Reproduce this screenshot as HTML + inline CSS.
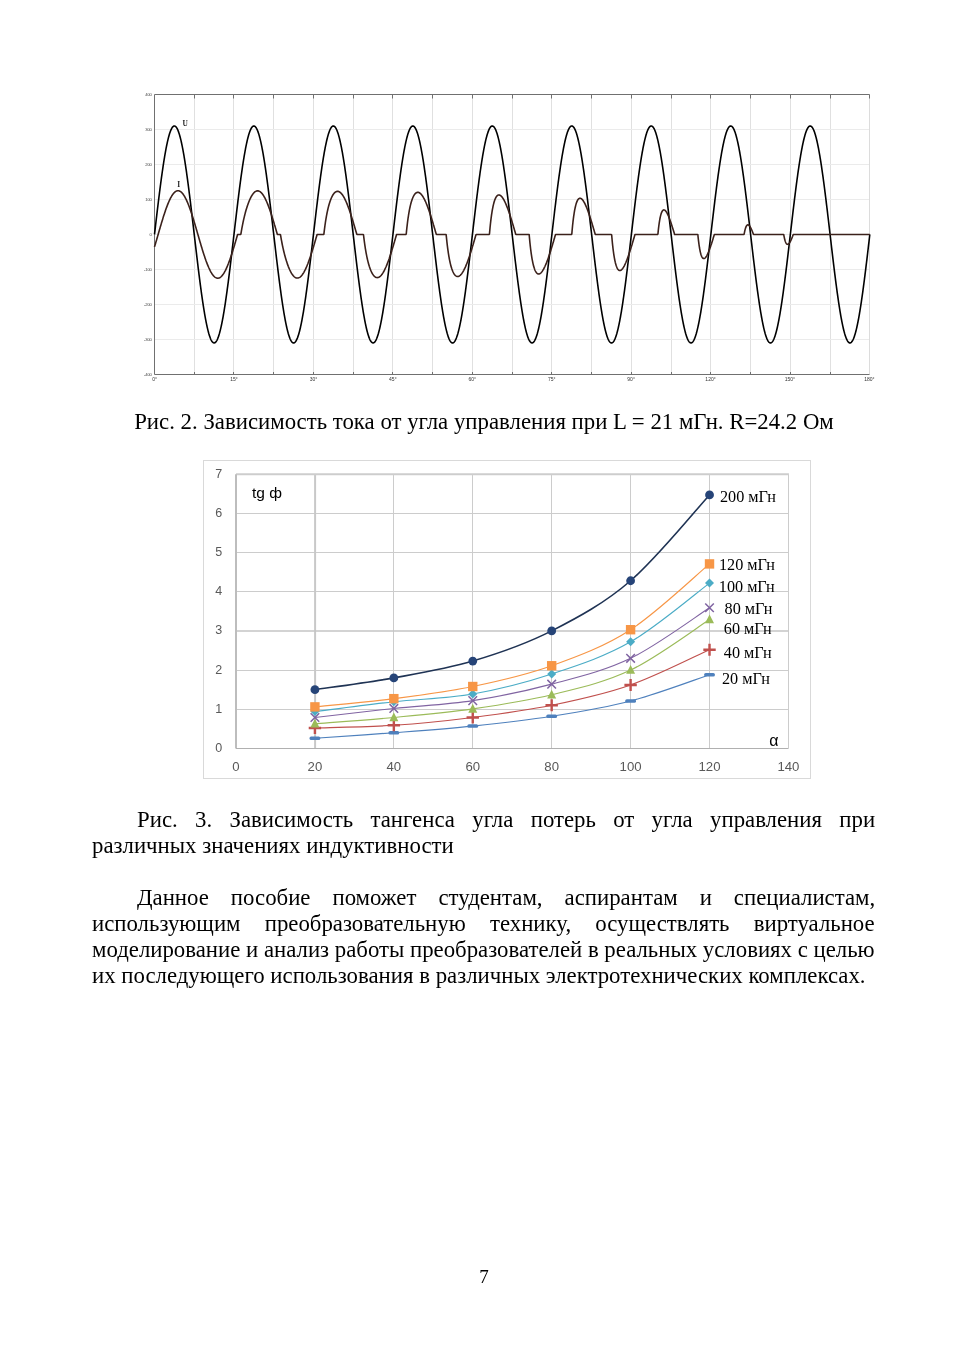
<!DOCTYPE html>
<html><head><meta charset="utf-8"><style>
html,body{margin:0;padding:0;background:#fff;}
body{width:968px;height:1369px;position:relative;overflow:hidden;}
.ln{will-change:transform;position:absolute;font-family:"Liberation Serif",serif;font-size:22.8px;line-height:26.07px;color:#000;white-space:nowrap;}
.j{display:flex;justify-content:space-between;}
.l{text-align:left;}
.c{text-align:center;}
.pg{will-change:transform;position:absolute;left:0;width:968px;text-align:center;font-family:"Liberation Serif",serif;font-size:19px;line-height:22px;}
</style></head><body>
<svg style="position:absolute;left:0;top:0;will-change:transform" width="968" height="420" viewBox="0 0 968 420">
<path d="M194.5,94.5V374.5M233.5,94.5V374.5M273.5,94.5V374.5M313.5,94.5V374.5M353.5,94.5V374.5M392.5,94.5V374.5M432.5,94.5V374.5M472.5,94.5V374.5M512.5,94.5V374.5M551.5,94.5V374.5M591.5,94.5V374.5M631.5,94.5V374.5M671.5,94.5V374.5M710.5,94.5V374.5M750.5,94.5V374.5M790.5,94.5V374.5M830.5,94.5V374.5" stroke="#e0e0e0" stroke-width="1" fill="none"/>
<path d="M154.5,129.5H869.5M154.5,164.5H869.5M154.5,199.5H869.5M154.5,234.5H869.5M154.5,269.5H869.5M154.5,304.5H869.5M154.5,339.5H869.5" stroke="#ebebeb" stroke-width="1" fill="none"/>
<path d="M869.5,94.5V374.5" stroke="#dcdcdc" stroke-width="1" fill="none"/>
<path d="M869.5,94.5H154.5V374.5H869.5" stroke="#707070" stroke-width="1" fill="none"/>
<path d="M194.5,94.5v4M194.5,374.5v-2.5M233.5,94.5v4M233.5,374.5v-2.5M273.5,94.5v4M273.5,374.5v-2.5M313.5,94.5v4M313.5,374.5v-2.5M353.5,94.5v4M353.5,374.5v-2.5M392.5,94.5v4M392.5,374.5v-2.5M432.5,94.5v4M432.5,374.5v-2.5M472.5,94.5v4M472.5,374.5v-2.5M512.5,94.5v4M512.5,374.5v-2.5M551.5,94.5v4M551.5,374.5v-2.5M591.5,94.5v4M591.5,374.5v-2.5M631.5,94.5v4M631.5,374.5v-2.5M671.5,94.5v4M671.5,374.5v-2.5M710.5,94.5v4M710.5,374.5v-2.5M750.5,94.5v4M750.5,374.5v-2.5M790.5,94.5v4M790.5,374.5v-2.5M830.5,94.5v4M830.5,374.5v-2.5M869.5,94.5v4" stroke="#707070" stroke-width="1" fill="none"/>
<path d="M154.50,234.46 L154.68,232.93 L154.86,231.39 L155.04,229.86 L155.22,228.33 L155.39,226.80 L155.57,225.27 L155.75,223.74 L155.93,222.22 L156.11,220.70 L156.29,219.18 L156.47,217.66 L156.65,216.15 L156.82,214.64 L157.00,213.13 L157.18,211.63 L157.36,210.13 L157.54,208.64 L157.72,207.15 L157.90,205.67 L158.08,204.20 L158.26,202.73 L158.43,201.27 L158.61,199.81 L158.79,198.36 L158.97,196.92 L159.15,195.48 L159.33,194.06 L159.51,192.64 L159.69,191.23 L159.86,189.82 L160.04,188.43 L160.22,187.05 L160.40,185.67 L160.58,184.31 L160.76,182.95 L160.94,181.61 L161.12,180.27 L161.30,178.95 L161.47,177.64 L161.65,176.34 L161.83,175.05 L162.01,173.77 L162.19,172.51 L162.37,171.26 L162.55,170.02 L162.73,168.79 L162.91,167.58 L163.08,166.37 L163.26,165.19 L163.44,164.02 L163.62,162.86 L163.80,161.71 L163.98,160.58 L164.16,159.47 L164.34,158.37 L164.51,157.28 L164.69,156.21 L164.87,155.16 L165.05,154.12 L165.23,153.10 L165.41,152.09 L165.59,151.10 L165.77,150.13 L165.95,149.17 L166.12,148.23 L166.30,147.31 L166.48,146.41 L166.66,145.52 L166.84,144.65 L167.02,143.80 L167.20,142.97 L167.38,142.15 L167.55,141.36 L167.73,140.58 L167.91,139.82 L168.09,139.08 L168.27,138.36 L168.45,137.66 L168.63,136.98 L168.81,136.31 L168.99,135.67 L169.16,135.05 L169.34,134.44 L169.52,133.86 L169.70,133.30 L169.88,132.75 L170.06,132.23 L170.24,131.73 L170.42,131.25 L170.77,130.35 L171.13,129.53 L171.49,128.79 L171.85,128.14 L172.20,127.58 L172.56,127.10 L172.92,126.70 L173.46,126.27 L173.99,126.04 L174.53,126.00 L175.07,126.15 L175.60,126.50 L176.14,127.05 L176.50,127.52 L176.85,128.08 L177.21,128.72 L177.57,129.44 L177.93,130.25 L178.28,131.14 L178.46,131.62 L178.64,132.12 L178.82,132.64 L179.00,133.18 L179.18,133.73 L179.36,134.31 L179.54,134.91 L179.72,135.53 L179.89,136.17 L180.07,136.83 L180.25,137.51 L180.43,138.20 L180.61,138.92 L180.79,139.66 L180.97,140.41 L181.15,141.18 L181.32,141.97 L181.50,142.79 L181.68,143.61 L181.86,144.46 L182.04,145.33 L182.22,146.21 L182.40,147.11 L182.58,148.03 L182.76,148.96 L182.93,149.91 L183.11,150.88 L183.29,151.87 L183.47,152.87 L183.65,153.89 L183.83,154.92 L184.01,155.98 L184.19,157.04 L184.36,158.12 L184.54,159.22 L184.72,160.33 L184.90,161.46 L185.08,162.60 L185.26,163.76 L185.44,164.93 L185.62,166.11 L185.80,167.31 L185.97,168.52 L186.15,169.74 L186.33,170.98 L186.51,172.23 L186.69,173.49 L186.87,174.77 L187.05,176.05 L187.23,177.35 L187.40,178.66 L187.58,179.98 L187.76,181.31 L187.94,182.65 L188.12,184.01 L188.30,185.37 L188.48,186.74 L188.66,188.12 L188.84,189.51 L189.01,190.91 L189.19,192.32 L189.37,193.74 L189.55,195.16 L189.73,196.60 L189.91,198.04 L190.09,199.49 L190.27,200.94 L190.44,202.40 L190.62,203.87 L190.80,205.35 L190.98,206.83 L191.16,208.31 L191.34,209.80 L191.52,211.30 L191.70,212.80 L191.88,214.30 L192.05,215.81 L192.23,217.32 L192.41,218.84 L192.59,220.36 L192.77,221.88 L192.95,223.40 L193.13,224.93 L193.31,226.46 L193.48,227.99 L193.66,229.52 L193.84,231.05 L194.02,232.59 L194.20,234.12 L194.38,235.65 L194.56,237.19 L194.74,238.72 L194.92,240.25 L195.09,241.78 L195.27,243.31 L195.45,244.84 L195.63,246.36 L195.81,247.89 L195.99,249.41 L196.17,250.92 L196.35,252.44 L196.53,253.95 L196.70,255.45 L196.88,256.96 L197.06,258.45 L197.24,259.95 L197.42,261.44 L197.60,262.92 L197.78,264.39 L197.96,265.87 L198.13,267.33 L198.31,268.79 L198.49,270.24 L198.67,271.68 L198.85,273.12 L199.03,274.55 L199.21,275.97 L199.39,277.38 L199.57,278.79 L199.74,280.18 L199.92,281.57 L200.10,282.94 L200.28,284.31 L200.46,285.67 L200.64,287.01 L200.82,288.35 L201.00,289.68 L201.17,290.99 L201.35,292.29 L201.53,293.58 L201.71,294.86 L201.89,296.13 L202.07,297.39 L202.25,298.63 L202.43,299.86 L202.61,301.08 L202.78,302.28 L202.96,303.47 L203.14,304.65 L203.32,305.81 L203.50,306.96 L203.68,308.09 L203.86,309.21 L204.04,310.31 L204.21,311.40 L204.39,312.47 L204.57,313.53 L204.75,314.57 L204.93,315.60 L205.11,316.61 L205.29,317.60 L205.47,318.58 L205.65,319.54 L205.82,320.48 L206.00,321.41 L206.18,322.31 L206.36,323.20 L206.54,324.08 L206.72,324.93 L206.90,325.77 L207.08,326.59 L207.25,327.39 L207.43,328.17 L207.61,328.93 L207.79,329.68 L207.97,330.40 L208.15,331.11 L208.33,331.79 L208.51,332.46 L208.69,333.11 L208.86,333.74 L209.04,334.34 L209.22,334.93 L209.40,335.50 L209.58,336.05 L209.76,336.57 L209.94,337.08 L210.12,337.57 L210.47,338.48 L210.83,339.31 L211.19,340.05 L211.55,340.71 L211.90,341.28 L212.26,341.77 L212.62,342.18 L213.16,342.62 L213.69,342.87 L214.23,342.92 L214.77,342.78 L215.30,342.45 L215.84,341.92 L216.20,341.46 L216.55,340.91 L216.91,340.28 L217.27,339.56 L217.63,338.76 L217.98,337.88 L218.16,337.41 L218.34,336.91 L218.52,336.40 L218.70,335.87 L218.88,335.31 L219.06,334.74 L219.24,334.14 L219.42,333.53 L219.59,332.89 L219.77,332.24 L219.95,331.57 L220.13,330.87 L220.31,330.16 L220.49,329.43 L220.67,328.68 L220.85,327.91 L221.02,327.12 L221.20,326.32 L221.38,325.49 L221.56,324.65 L221.74,323.79 L221.92,322.91 L222.10,322.01 L222.28,321.10 L222.46,320.17 L222.63,319.22 L222.81,318.25 L222.99,317.27 L223.17,316.27 L223.35,315.26 L223.53,314.23 L223.71,313.18 L223.89,312.12 L224.06,311.04 L224.24,309.94 L224.42,308.84 L224.60,307.71 L224.78,306.57 L224.96,305.42 L225.14,304.26 L225.32,303.07 L225.50,301.88 L225.67,300.67 L225.85,299.45 L226.03,298.22 L226.21,296.97 L226.39,295.71 L226.57,294.44 L226.75,293.15 L226.93,291.86 L227.10,290.55 L227.28,289.23 L227.46,287.91 L227.64,286.57 L227.82,285.22 L228.00,283.86 L228.18,282.49 L228.36,281.11 L228.54,279.72 L228.71,278.32 L228.89,276.91 L229.07,275.50 L229.25,274.07 L229.43,272.64 L229.61,271.20 L229.79,269.76 L229.97,268.30 L230.15,266.84 L230.32,265.38 L230.50,263.90 L230.68,262.42 L230.86,260.94 L231.04,259.45 L231.22,257.96 L231.40,256.46 L231.58,254.95 L231.75,253.44 L231.93,251.93 L232.11,250.42 L232.29,248.90 L232.47,247.38 L232.65,245.85 L232.83,244.33 L233.01,242.80 L233.19,241.27 L233.36,239.74 L233.54,238.21 L233.72,236.67 L233.90,235.14 L234.08,233.61 L234.26,232.07 L234.44,230.54 L234.62,229.01 L234.79,227.48 L234.97,225.95 L235.15,224.42 L235.33,222.90 L235.51,221.37 L235.69,219.85 L235.87,218.33 L236.05,216.82 L236.23,215.31 L236.40,213.80 L236.58,212.30 L236.76,210.80 L236.94,209.30 L237.12,207.82 L237.30,206.33 L237.48,204.85 L237.66,203.38 L237.83,201.91 L238.01,200.46 L238.19,199.00 L238.37,197.56 L238.55,196.12 L238.73,194.69 L238.91,193.27 L239.09,191.85 L239.27,190.45 L239.44,189.05 L239.62,187.66 L239.80,186.28 L239.98,184.91 L240.16,183.55 L240.34,182.20 L240.52,180.87 L240.70,179.54 L240.87,178.22 L241.05,176.92 L241.23,175.62 L241.41,174.34 L241.59,173.07 L241.77,171.81 L241.95,170.57 L242.13,169.33 L242.31,168.11 L242.48,166.91 L242.66,165.71 L242.84,164.53 L243.02,163.37 L243.20,162.22 L243.38,161.08 L243.56,159.96 L243.74,158.85 L243.92,157.76 L244.09,156.68 L244.27,155.62 L244.45,154.58 L244.63,153.55 L244.81,152.54 L244.99,151.54 L245.17,150.56 L245.35,149.59 L245.52,148.65 L245.70,147.72 L245.88,146.81 L246.06,145.91 L246.24,145.04 L246.42,144.18 L246.60,143.34 L246.78,142.51 L246.96,141.71 L247.13,140.92 L247.31,140.16 L247.49,139.41 L247.67,138.68 L247.85,137.97 L248.03,137.28 L248.21,136.61 L248.39,135.95 L248.56,135.32 L248.74,134.71 L248.92,134.12 L249.10,133.55 L249.28,132.99 L249.46,132.46 L249.64,131.95 L249.82,131.46 L250.00,130.99 L250.35,130.11 L250.71,129.31 L251.07,128.60 L251.43,127.98 L251.78,127.44 L252.14,126.98 L252.50,126.61 L253.04,126.22 L253.57,126.02 L254.11,126.01 L254.64,126.21 L255.18,126.59 L255.54,126.96 L255.90,127.41 L256.25,127.94 L256.61,128.57 L256.97,129.27 L257.33,130.06 L257.68,130.94 L257.86,131.41 L258.04,131.89 L258.22,132.40 L258.40,132.93 L258.58,133.48 L258.76,134.05 L258.94,134.64 L259.12,135.25 L259.29,135.88 L259.47,136.53 L259.65,137.20 L259.83,137.89 L260.01,138.60 L260.19,139.33 L260.37,140.07 L260.55,140.84 L260.73,141.62 L260.90,142.42 L261.08,143.24 L261.26,144.08 L261.44,144.94 L261.62,145.81 L261.80,146.71 L261.98,147.62 L262.16,148.54 L262.33,149.49 L262.51,150.45 L262.69,151.43 L262.87,152.42 L263.05,153.44 L263.23,154.46 L263.41,155.51 L263.59,156.57 L263.77,157.64 L263.94,158.73 L264.12,159.84 L264.30,160.96 L264.48,162.09 L264.66,163.24 L264.84,164.40 L265.02,165.58 L265.20,166.77 L265.37,167.98 L265.55,169.20 L265.73,170.43 L265.91,171.67 L266.09,172.93 L266.27,174.20 L266.45,175.48 L266.63,176.77 L266.81,178.08 L266.98,179.39 L267.16,180.72 L267.34,182.06 L267.52,183.40 L267.70,184.76 L267.88,186.13 L268.06,187.51 L268.24,188.89 L268.41,190.29 L268.59,191.69 L268.77,193.11 L268.95,194.53 L269.13,195.96 L269.31,197.40 L269.49,198.84 L269.67,200.29 L269.85,201.75 L270.02,203.22 L270.20,204.69 L270.38,206.17 L270.56,207.65 L270.74,209.14 L270.92,210.63 L271.10,212.13 L271.28,213.63 L271.45,215.14 L271.63,216.65 L271.81,218.17 L271.99,219.68 L272.17,221.20 L272.35,222.73 L272.53,224.25 L272.71,225.78 L272.89,227.31 L273.06,228.84 L273.24,230.37 L273.42,231.90 L273.60,233.44 L273.78,234.97 L273.96,236.50 L274.14,238.04 L274.32,239.57 L274.49,241.10 L274.67,242.63 L274.85,244.16 L275.03,245.69 L275.21,247.21 L275.39,248.73 L275.57,250.25 L275.75,251.76 L275.93,253.28 L276.10,254.79 L276.28,256.29 L276.46,257.79 L276.64,259.28 L276.82,260.77 L277.00,262.26 L277.18,263.74 L277.36,265.21 L277.54,266.68 L277.71,268.14 L277.89,269.59 L278.07,271.04 L278.25,272.48 L278.43,273.91 L278.61,275.34 L278.79,276.76 L278.97,278.16 L279.14,279.56 L279.32,280.95 L279.50,282.33 L279.68,283.70 L279.86,285.07 L280.04,286.42 L280.22,287.76 L280.40,289.09 L280.58,290.41 L280.75,291.71 L280.93,293.01 L281.11,294.30 L281.29,295.57 L281.47,296.83 L281.65,298.08 L281.83,299.31 L282.01,300.54 L282.18,301.75 L282.36,302.94 L282.54,304.12 L282.72,305.29 L282.90,306.45 L283.08,307.59 L283.26,308.71 L283.44,309.82 L283.62,310.92 L283.79,312.00 L283.97,313.06 L284.15,314.11 L284.33,315.14 L284.51,316.16 L284.69,317.16 L284.87,318.15 L285.05,319.11 L285.22,320.06 L285.40,321.00 L285.58,321.91 L285.76,322.81 L285.94,323.69 L286.12,324.55 L286.30,325.40 L286.48,326.23 L286.66,327.03 L286.83,327.82 L287.01,328.60 L287.19,329.35 L287.37,330.08 L287.55,330.80 L287.73,331.49 L287.91,332.17 L288.09,332.82 L288.26,333.46 L288.44,334.08 L288.62,334.67 L288.80,335.25 L288.98,335.81 L289.16,336.34 L289.34,336.86 L289.52,337.35 L289.70,337.83 L290.05,338.72 L290.41,339.52 L290.77,340.24 L291.13,340.88 L291.48,341.43 L291.84,341.89 L292.20,342.27 L292.74,342.68 L293.27,342.89 L293.81,342.91 L294.35,342.74 L294.88,342.36 L295.24,342.01 L295.60,341.57 L295.95,341.04 L296.31,340.43 L296.67,339.73 L297.03,338.95 L297.39,338.08 L297.74,337.14 L297.92,336.63 L298.10,336.11 L298.28,335.56 L298.46,335.00 L298.64,334.41 L298.82,333.80 L298.99,333.18 L299.17,332.53 L299.35,331.87 L299.53,331.18 L299.71,330.48 L299.89,329.76 L300.07,329.02 L300.25,328.25 L300.43,327.48 L300.60,326.68 L300.78,325.86 L300.96,325.03 L301.14,324.17 L301.32,323.30 L301.50,322.41 L301.68,321.51 L301.86,320.58 L302.03,319.64 L302.21,318.68 L302.39,317.71 L302.57,316.72 L302.75,315.71 L302.93,314.69 L303.11,313.65 L303.29,312.59 L303.47,311.52 L303.64,310.43 L303.82,309.33 L304.00,308.21 L304.18,307.08 L304.36,305.94 L304.54,304.78 L304.72,303.60 L304.90,302.41 L305.07,301.21 L305.25,300.00 L305.43,298.77 L305.61,297.53 L305.79,296.27 L305.97,295.01 L306.15,293.73 L306.33,292.44 L306.51,291.13 L306.68,289.82 L306.86,288.50 L307.04,287.16 L307.22,285.82 L307.40,284.46 L307.58,283.10 L307.76,281.72 L307.94,280.34 L308.11,278.94 L308.29,277.54 L308.47,276.13 L308.65,274.71 L308.83,273.28 L309.01,271.84 L309.19,270.40 L309.37,268.95 L309.55,267.49 L309.72,266.03 L309.90,264.56 L310.08,263.08 L310.26,261.60 L310.44,260.11 L310.62,258.62 L310.80,257.12 L310.98,255.62 L311.16,254.12 L311.33,252.61 L311.51,251.09 L311.69,249.57 L311.87,248.05 L312.05,246.53 L312.23,245.01 L312.41,243.48 L312.59,241.95 L312.76,240.42 L312.94,238.89 L313.12,237.36 L313.30,235.82 L313.48,234.29 L313.66,232.76 L313.84,231.22 L314.02,229.69 L314.20,228.16 L314.37,226.63 L314.55,225.10 L314.73,223.57 L314.91,222.05 L315.09,220.53 L315.27,219.01 L315.45,217.49 L315.63,215.98 L315.80,214.47 L315.98,212.96 L316.16,211.46 L316.34,209.97 L316.52,208.48 L316.70,206.99 L316.88,205.51 L317.06,204.03 L317.24,202.57 L317.41,201.10 L317.59,199.65 L317.77,198.20 L317.95,196.76 L318.13,195.32 L318.31,193.90 L318.49,192.48 L318.67,191.07 L318.84,189.67 L319.02,188.28 L319.20,186.89 L319.38,185.52 L319.56,184.16 L319.74,182.80 L319.92,181.46 L320.10,180.13 L320.28,178.81 L320.45,177.49 L320.63,176.20 L320.81,174.91 L320.99,173.63 L321.17,172.37 L321.35,171.12 L321.53,169.88 L321.71,168.65 L321.88,167.44 L322.06,166.24 L322.24,165.06 L322.42,163.89 L322.60,162.73 L322.78,161.59 L322.96,160.46 L323.14,159.34 L323.32,158.24 L323.49,157.16 L323.67,156.09 L323.85,155.04 L324.03,154.00 L324.21,152.98 L324.39,151.98 L324.57,150.99 L324.75,150.02 L324.92,149.07 L325.10,148.13 L325.28,147.21 L325.46,146.31 L325.64,145.42 L325.82,144.56 L326.00,143.71 L326.18,142.88 L326.36,142.06 L326.53,141.27 L326.71,140.49 L326.89,139.74 L327.07,139.00 L327.25,138.28 L327.43,137.58 L327.61,136.90 L327.79,136.24 L327.97,135.60 L328.14,134.98 L328.32,134.38 L328.50,133.80 L328.68,133.24 L328.86,132.70 L329.04,132.17 L329.22,131.67 L329.40,131.20 L329.75,130.30 L330.11,129.48 L330.47,128.75 L330.83,128.11 L331.18,127.55 L331.54,127.07 L331.90,126.68 L332.44,126.26 L332.97,126.03 L333.51,126.00 L334.05,126.16 L334.58,126.52 L335.12,127.07 L335.48,127.55 L335.83,128.11 L336.19,128.75 L336.55,129.48 L336.91,130.30 L337.26,131.20 L337.44,131.67 L337.62,132.17 L337.80,132.70 L337.98,133.24 L338.16,133.80 L338.34,134.38 L338.52,134.98 L338.69,135.60 L338.87,136.24 L339.05,136.90 L339.23,137.58 L339.41,138.28 L339.59,139.00 L339.77,139.74 L339.95,140.49 L340.13,141.27 L340.30,142.06 L340.48,142.88 L340.66,143.71 L340.84,144.56 L341.02,145.42 L341.20,146.31 L341.38,147.21 L341.56,148.13 L341.74,149.07 L341.91,150.02 L342.09,150.99 L342.27,151.98 L342.45,152.98 L342.63,154.00 L342.81,155.04 L342.99,156.09 L343.17,157.16 L343.34,158.24 L343.52,159.34 L343.70,160.46 L343.88,161.59 L344.06,162.73 L344.24,163.89 L344.42,165.06 L344.60,166.24 L344.78,167.44 L344.95,168.65 L345.13,169.88 L345.31,171.12 L345.49,172.37 L345.67,173.63 L345.85,174.91 L346.03,176.20 L346.21,177.49 L346.38,178.81 L346.56,180.13 L346.74,181.46 L346.92,182.80 L347.10,184.16 L347.28,185.52 L347.46,186.89 L347.64,188.28 L347.82,189.67 L347.99,191.07 L348.17,192.48 L348.35,193.90 L348.53,195.32 L348.71,196.76 L348.89,198.20 L349.07,199.65 L349.25,201.10 L349.42,202.57 L349.60,204.03 L349.78,205.51 L349.96,206.99 L350.14,208.48 L350.32,209.97 L350.50,211.46 L350.68,212.96 L350.86,214.47 L351.03,215.98 L351.21,217.49 L351.39,219.01 L351.57,220.53 L351.75,222.05 L351.93,223.57 L352.11,225.10 L352.29,226.63 L352.46,228.16 L352.64,229.69 L352.82,231.22 L353.00,232.76 L353.18,234.29 L353.36,235.82 L353.54,237.36 L353.72,238.89 L353.90,240.42 L354.07,241.95 L354.25,243.48 L354.43,245.01 L354.61,246.53 L354.79,248.05 L354.97,249.57 L355.15,251.09 L355.33,252.61 L355.50,254.12 L355.68,255.62 L355.86,257.12 L356.04,258.62 L356.22,260.11 L356.40,261.60 L356.58,263.08 L356.76,264.56 L356.94,266.03 L357.11,267.49 L357.29,268.95 L357.47,270.40 L357.65,271.84 L357.83,273.28 L358.01,274.71 L358.19,276.13 L358.37,277.54 L358.55,278.94 L358.72,280.34 L358.90,281.72 L359.08,283.10 L359.26,284.46 L359.44,285.82 L359.62,287.16 L359.80,288.50 L359.98,289.82 L360.15,291.13 L360.33,292.44 L360.51,293.73 L360.69,295.01 L360.87,296.27 L361.05,297.53 L361.23,298.77 L361.41,300.00 L361.59,301.21 L361.76,302.41 L361.94,303.60 L362.12,304.78 L362.30,305.94 L362.48,307.08 L362.66,308.21 L362.84,309.33 L363.02,310.43 L363.19,311.52 L363.37,312.59 L363.55,313.65 L363.73,314.69 L363.91,315.71 L364.09,316.72 L364.27,317.71 L364.45,318.68 L364.63,319.64 L364.80,320.58 L364.98,321.51 L365.16,322.41 L365.34,323.30 L365.52,324.17 L365.70,325.03 L365.88,325.86 L366.06,326.68 L366.23,327.48 L366.41,328.25 L366.59,329.02 L366.77,329.76 L366.95,330.48 L367.13,331.18 L367.31,331.87 L367.49,332.53 L367.67,333.18 L367.84,333.80 L368.02,334.41 L368.20,335.00 L368.38,335.56 L368.56,336.11 L368.74,336.63 L368.92,337.14 L369.10,337.62 L369.45,338.53 L369.81,339.35 L370.17,340.09 L370.53,340.74 L370.88,341.31 L371.24,341.80 L371.60,342.20 L372.14,342.63 L372.67,342.88 L373.21,342.92 L373.75,342.77 L374.28,342.43 L374.82,341.89 L375.18,341.43 L375.53,340.88 L375.89,340.24 L376.25,339.52 L376.61,338.72 L376.96,337.83 L377.14,337.35 L377.32,336.86 L377.50,336.34 L377.68,335.81 L377.86,335.25 L378.04,334.67 L378.22,334.08 L378.40,333.46 L378.57,332.82 L378.75,332.17 L378.93,331.49 L379.11,330.80 L379.29,330.08 L379.47,329.35 L379.65,328.60 L379.83,327.82 L380.00,327.03 L380.18,326.23 L380.36,325.40 L380.54,324.55 L380.72,323.69 L380.90,322.81 L381.08,321.91 L381.26,321.00 L381.44,320.06 L381.61,319.11 L381.79,318.15 L381.97,317.16 L382.15,316.16 L382.33,315.14 L382.51,314.11 L382.69,313.06 L382.87,312.00 L383.04,310.92 L383.22,309.82 L383.40,308.71 L383.58,307.59 L383.76,306.45 L383.94,305.29 L384.12,304.12 L384.30,302.94 L384.48,301.75 L384.65,300.54 L384.83,299.31 L385.01,298.08 L385.19,296.83 L385.37,295.57 L385.55,294.30 L385.73,293.01 L385.91,291.71 L386.08,290.41 L386.26,289.09 L386.44,287.76 L386.62,286.42 L386.80,285.07 L386.98,283.70 L387.16,282.33 L387.34,280.95 L387.52,279.56 L387.69,278.16 L387.87,276.76 L388.05,275.34 L388.23,273.91 L388.41,272.48 L388.59,271.04 L388.77,269.59 L388.95,268.14 L389.12,266.68 L389.30,265.21 L389.48,263.74 L389.66,262.26 L389.84,260.77 L390.02,259.28 L390.20,257.79 L390.38,256.29 L390.56,254.79 L390.73,253.28 L390.91,251.76 L391.09,250.25 L391.27,248.73 L391.45,247.21 L391.63,245.69 L391.81,244.16 L391.99,242.63 L392.17,241.10 L392.34,239.57 L392.52,238.04 L392.70,236.50 L392.88,234.97 L393.06,233.44 L393.24,231.90 L393.42,230.37 L393.60,228.84 L393.77,227.31 L393.95,225.78 L394.13,224.25 L394.31,222.73 L394.49,221.20 L394.67,219.68 L394.85,218.17 L395.03,216.65 L395.21,215.14 L395.38,213.63 L395.56,212.13 L395.74,210.63 L395.92,209.14 L396.10,207.65 L396.28,206.17 L396.46,204.69 L396.64,203.22 L396.81,201.75 L396.99,200.29 L397.17,198.84 L397.35,197.40 L397.53,195.96 L397.71,194.53 L397.89,193.11 L398.07,191.69 L398.25,190.29 L398.42,188.89 L398.60,187.51 L398.78,186.13 L398.96,184.76 L399.14,183.40 L399.32,182.06 L399.50,180.72 L399.68,179.39 L399.85,178.08 L400.03,176.77 L400.21,175.48 L400.39,174.20 L400.57,172.93 L400.75,171.67 L400.93,170.43 L401.11,169.20 L401.29,167.98 L401.46,166.77 L401.64,165.58 L401.82,164.40 L402.00,163.24 L402.18,162.09 L402.36,160.96 L402.54,159.84 L402.72,158.73 L402.89,157.64 L403.07,156.57 L403.25,155.51 L403.43,154.46 L403.61,153.44 L403.79,152.42 L403.97,151.43 L404.15,150.45 L404.33,149.49 L404.50,148.54 L404.68,147.62 L404.86,146.71 L405.04,145.81 L405.22,144.94 L405.40,144.08 L405.58,143.24 L405.76,142.42 L405.93,141.62 L406.11,140.84 L406.29,140.07 L406.47,139.33 L406.65,138.60 L406.83,137.89 L407.01,137.20 L407.19,136.53 L407.37,135.88 L407.54,135.25 L407.72,134.64 L407.90,134.05 L408.08,133.48 L408.26,132.93 L408.44,132.40 L408.62,131.89 L408.80,131.41 L408.98,130.94 L409.33,130.06 L409.69,129.27 L410.05,128.57 L410.41,127.94 L410.76,127.41 L411.12,126.96 L411.48,126.59 L412.02,126.21 L412.55,126.01 L413.09,126.02 L413.62,126.22 L414.16,126.61 L414.52,126.98 L414.88,127.44 L415.23,127.98 L415.59,128.60 L415.95,129.31 L416.31,130.11 L416.66,130.99 L416.84,131.46 L417.02,131.95 L417.20,132.46 L417.38,132.99 L417.56,133.55 L417.74,134.12 L417.92,134.71 L418.10,135.32 L418.27,135.95 L418.45,136.61 L418.63,137.28 L418.81,137.97 L418.99,138.68 L419.17,139.41 L419.35,140.16 L419.53,140.92 L419.70,141.71 L419.88,142.51 L420.06,143.34 L420.24,144.18 L420.42,145.04 L420.60,145.91 L420.78,146.81 L420.96,147.72 L421.14,148.65 L421.31,149.59 L421.49,150.56 L421.67,151.54 L421.85,152.54 L422.03,153.55 L422.21,154.58 L422.39,155.62 L422.57,156.68 L422.75,157.76 L422.92,158.85 L423.10,159.96 L423.28,161.08 L423.46,162.22 L423.64,163.37 L423.82,164.53 L424.00,165.71 L424.18,166.91 L424.35,168.11 L424.53,169.33 L424.71,170.57 L424.89,171.81 L425.07,173.07 L425.25,174.34 L425.43,175.62 L425.61,176.92 L425.79,178.22 L425.96,179.54 L426.14,180.87 L426.32,182.20 L426.50,183.55 L426.68,184.91 L426.86,186.28 L427.04,187.66 L427.22,189.05 L427.39,190.45 L427.57,191.85 L427.75,193.27 L427.93,194.69 L428.11,196.12 L428.29,197.56 L428.47,199.00 L428.65,200.46 L428.83,201.91 L429.00,203.38 L429.18,204.85 L429.36,206.33 L429.54,207.82 L429.72,209.30 L429.90,210.80 L430.08,212.30 L430.26,213.80 L430.43,215.31 L430.61,216.82 L430.79,218.33 L430.97,219.85 L431.15,221.37 L431.33,222.90 L431.51,224.42 L431.69,225.95 L431.87,227.48 L432.04,229.01 L432.22,230.54 L432.40,232.07 L432.58,233.61 L432.76,235.14 L432.94,236.67 L433.12,238.21 L433.30,239.74 L433.47,241.27 L433.65,242.80 L433.83,244.33 L434.01,245.85 L434.19,247.38 L434.37,248.90 L434.55,250.42 L434.73,251.93 L434.91,253.44 L435.08,254.95 L435.26,256.46 L435.44,257.96 L435.62,259.45 L435.80,260.94 L435.98,262.42 L436.16,263.90 L436.34,265.38 L436.51,266.84 L436.69,268.30 L436.87,269.76 L437.05,271.20 L437.23,272.64 L437.41,274.07 L437.59,275.50 L437.77,276.91 L437.95,278.32 L438.12,279.72 L438.30,281.11 L438.48,282.49 L438.66,283.86 L438.84,285.22 L439.02,286.57 L439.20,287.91 L439.38,289.23 L439.56,290.55 L439.73,291.86 L439.91,293.15 L440.09,294.44 L440.27,295.71 L440.45,296.97 L440.63,298.22 L440.81,299.45 L440.99,300.67 L441.16,301.88 L441.34,303.07 L441.52,304.26 L441.70,305.42 L441.88,306.57 L442.06,307.71 L442.24,308.84 L442.42,309.94 L442.60,311.04 L442.77,312.12 L442.95,313.18 L443.13,314.23 L443.31,315.26 L443.49,316.27 L443.67,317.27 L443.85,318.25 L444.03,319.22 L444.20,320.17 L444.38,321.10 L444.56,322.01 L444.74,322.91 L444.92,323.79 L445.10,324.65 L445.28,325.49 L445.46,326.32 L445.64,327.12 L445.81,327.91 L445.99,328.68 L446.17,329.43 L446.35,330.16 L446.53,330.87 L446.71,331.57 L446.89,332.24 L447.07,332.89 L447.24,333.53 L447.42,334.14 L447.60,334.74 L447.78,335.31 L447.96,335.87 L448.14,336.40 L448.32,336.91 L448.50,337.41 L448.68,337.88 L449.03,338.76 L449.39,339.56 L449.75,340.28 L450.11,340.91 L450.46,341.46 L450.82,341.92 L451.18,342.29 L451.72,342.69 L452.25,342.90 L452.79,342.91 L453.32,342.73 L453.86,342.35 L454.22,341.99 L454.58,341.54 L454.93,341.01 L455.29,340.39 L455.65,339.69 L456.01,338.90 L456.37,338.03 L456.72,337.08 L456.90,336.57 L457.08,336.05 L457.26,335.50 L457.44,334.93 L457.62,334.34 L457.80,333.74 L457.97,333.11 L458.15,332.46 L458.33,331.79 L458.51,331.11 L458.69,330.40 L458.87,329.68 L459.05,328.93 L459.23,328.17 L459.41,327.39 L459.58,326.59 L459.76,325.77 L459.94,324.93 L460.12,324.08 L460.30,323.20 L460.48,322.31 L460.66,321.41 L460.84,320.48 L461.01,319.54 L461.19,318.58 L461.37,317.60 L461.55,316.61 L461.73,315.60 L461.91,314.57 L462.09,313.53 L462.27,312.47 L462.45,311.40 L462.62,310.31 L462.80,309.21 L462.98,308.09 L463.16,306.96 L463.34,305.81 L463.52,304.65 L463.70,303.47 L463.88,302.28 L464.05,301.08 L464.23,299.86 L464.41,298.63 L464.59,297.39 L464.77,296.13 L464.95,294.86 L465.13,293.58 L465.31,292.29 L465.49,290.99 L465.66,289.68 L465.84,288.35 L466.02,287.01 L466.20,285.67 L466.38,284.31 L466.56,282.94 L466.74,281.57 L466.92,280.18 L467.09,278.79 L467.27,277.38 L467.45,275.97 L467.63,274.55 L467.81,273.12 L467.99,271.68 L468.17,270.24 L468.35,268.79 L468.53,267.33 L468.70,265.87 L468.88,264.39 L469.06,262.92 L469.24,261.44 L469.42,259.95 L469.60,258.45 L469.78,256.96 L469.96,255.45 L470.13,253.95 L470.31,252.44 L470.49,250.92 L470.67,249.41 L470.85,247.89 L471.03,246.36 L471.21,244.84 L471.39,243.31 L471.57,241.78 L471.74,240.25 L471.92,238.72 L472.10,237.19 L472.28,235.65 L472.46,234.12 L472.64,232.59 L472.82,231.05 L473.00,229.52 L473.18,227.99 L473.35,226.46 L473.53,224.93 L473.71,223.40 L473.89,221.88 L474.07,220.36 L474.25,218.84 L474.43,217.32 L474.61,215.81 L474.78,214.30 L474.96,212.80 L475.14,211.30 L475.32,209.80 L475.50,208.31 L475.68,206.83 L475.86,205.35 L476.04,203.87 L476.22,202.40 L476.39,200.94 L476.57,199.49 L476.75,198.04 L476.93,196.60 L477.11,195.16 L477.29,193.74 L477.47,192.32 L477.65,190.91 L477.82,189.51 L478.00,188.12 L478.18,186.74 L478.36,185.37 L478.54,184.01 L478.72,182.65 L478.90,181.31 L479.08,179.98 L479.26,178.66 L479.43,177.35 L479.61,176.05 L479.79,174.77 L479.97,173.49 L480.15,172.23 L480.33,170.98 L480.51,169.74 L480.69,168.52 L480.86,167.31 L481.04,166.11 L481.22,164.93 L481.40,163.76 L481.58,162.60 L481.76,161.46 L481.94,160.33 L482.12,159.22 L482.30,158.12 L482.47,157.04 L482.65,155.98 L482.83,154.92 L483.01,153.89 L483.19,152.87 L483.37,151.87 L483.55,150.88 L483.73,149.91 L483.90,148.96 L484.08,148.03 L484.26,147.11 L484.44,146.21 L484.62,145.33 L484.80,144.46 L484.98,143.61 L485.16,142.79 L485.34,141.97 L485.51,141.18 L485.69,140.41 L485.87,139.66 L486.05,138.92 L486.23,138.20 L486.41,137.51 L486.59,136.83 L486.77,136.17 L486.94,135.53 L487.12,134.91 L487.30,134.31 L487.48,133.73 L487.66,133.18 L487.84,132.64 L488.02,132.12 L488.20,131.62 L488.38,131.14 L488.73,130.25 L489.09,129.44 L489.45,128.72 L489.81,128.08 L490.16,127.52 L490.52,127.05 L490.88,126.66 L491.42,126.25 L491.95,126.03 L492.49,126.00 L493.03,126.17 L493.56,126.54 L493.92,126.89 L494.28,127.33 L494.63,127.85 L494.99,128.46 L495.35,129.15 L495.71,129.93 L496.07,130.79 L496.42,131.73 L496.60,132.23 L496.78,132.75 L496.96,133.30 L497.14,133.86 L497.32,134.44 L497.50,135.05 L497.67,135.67 L497.85,136.31 L498.03,136.98 L498.21,137.66 L498.39,138.36 L498.57,139.08 L498.75,139.82 L498.93,140.58 L499.11,141.36 L499.28,142.15 L499.46,142.97 L499.64,143.80 L499.82,144.65 L500.00,145.52 L500.18,146.41 L500.36,147.31 L500.54,148.23 L500.71,149.17 L500.89,150.13 L501.07,151.10 L501.25,152.09 L501.43,153.10 L501.61,154.12 L501.79,155.16 L501.97,156.21 L502.15,157.28 L502.32,158.37 L502.50,159.47 L502.68,160.58 L502.86,161.71 L503.04,162.86 L503.22,164.02 L503.40,165.19 L503.58,166.37 L503.75,167.58 L503.93,168.79 L504.11,170.02 L504.29,171.26 L504.47,172.51 L504.65,173.77 L504.83,175.05 L505.01,176.34 L505.19,177.64 L505.36,178.95 L505.54,180.27 L505.72,181.61 L505.90,182.95 L506.08,184.31 L506.26,185.67 L506.44,187.05 L506.62,188.43 L506.80,189.82 L506.97,191.23 L507.15,192.64 L507.33,194.06 L507.51,195.48 L507.69,196.92 L507.87,198.36 L508.05,199.81 L508.23,201.27 L508.40,202.73 L508.58,204.20 L508.76,205.67 L508.94,207.15 L509.12,208.64 L509.30,210.13 L509.48,211.63 L509.66,213.13 L509.84,214.64 L510.01,216.15 L510.19,217.66 L510.37,219.18 L510.55,220.70 L510.73,222.22 L510.91,223.74 L511.09,225.27 L511.27,226.80 L511.44,228.33 L511.62,229.86 L511.80,231.39 L511.98,232.93 L512.16,234.46 L512.34,235.99 L512.52,237.53 L512.70,239.06 L512.88,240.59 L513.05,242.12 L513.23,243.65 L513.41,245.18 L513.59,246.70 L513.77,248.22 L513.95,249.74 L514.13,251.26 L514.31,252.77 L514.48,254.28 L514.66,255.79 L514.84,257.29 L515.02,258.79 L515.20,260.28 L515.38,261.77 L515.56,263.25 L515.74,264.72 L515.92,266.19 L516.09,267.65 L516.27,269.11 L516.45,270.56 L516.63,272.00 L516.81,273.44 L516.99,274.86 L517.17,276.28 L517.35,277.69 L517.52,279.10 L517.70,280.49 L517.88,281.87 L518.06,283.25 L518.24,284.61 L518.42,285.97 L518.60,287.31 L518.78,288.65 L518.96,289.97 L519.13,291.28 L519.31,292.58 L519.49,293.87 L519.67,295.15 L519.85,296.41 L520.03,297.66 L520.21,298.90 L520.39,300.13 L520.57,301.34 L520.74,302.55 L520.92,303.73 L521.10,304.90 L521.28,306.06 L521.46,307.21 L521.64,308.34 L521.82,309.45 L522.00,310.55 L522.17,311.64 L522.35,312.71 L522.53,313.76 L522.71,314.80 L522.89,315.82 L523.07,316.83 L523.25,317.82 L523.43,318.79 L523.61,319.75 L523.78,320.69 L523.96,321.61 L524.14,322.51 L524.32,323.40 L524.50,324.27 L524.68,325.12 L524.86,325.95 L525.04,326.77 L525.21,327.56 L525.39,328.34 L525.57,329.10 L525.75,329.84 L525.93,330.56 L526.11,331.26 L526.29,331.94 L526.47,332.61 L526.65,333.25 L526.82,333.87 L527.00,334.48 L527.18,335.06 L527.36,335.62 L527.54,336.17 L527.72,336.69 L527.90,337.19 L528.08,337.67 L528.43,338.57 L528.79,339.39 L529.15,340.13 L529.51,340.78 L529.86,341.34 L530.22,341.82 L530.58,342.22 L531.12,342.65 L531.65,342.88 L532.19,342.92 L532.73,342.77 L533.26,342.42 L533.80,341.87 L534.16,341.40 L534.51,340.84 L534.87,340.20 L535.23,339.48 L535.59,338.67 L535.94,337.78 L536.12,337.30 L536.30,336.80 L536.48,336.28 L536.66,335.74 L536.84,335.19 L537.02,334.61 L537.20,334.01 L537.38,333.39 L537.55,332.75 L537.73,332.09 L537.91,331.41 L538.09,330.72 L538.27,330.00 L538.45,329.26 L538.63,328.51 L538.81,327.74 L538.98,326.95 L539.16,326.13 L539.34,325.31 L539.52,324.46 L539.70,323.59 L539.88,322.71 L540.06,321.81 L540.24,320.89 L540.42,319.96 L540.59,319.01 L540.77,318.04 L540.95,317.05 L541.13,316.05 L541.31,315.03 L541.49,314.00 L541.67,312.94 L541.85,311.88 L542.02,310.80 L542.20,309.70 L542.38,308.59 L542.56,307.46 L542.74,306.32 L542.92,305.16 L543.10,303.99 L543.28,302.81 L543.46,301.61 L543.63,300.40 L543.81,299.18 L543.99,297.94 L544.17,296.69 L544.35,295.43 L544.53,294.15 L544.71,292.87 L544.89,291.57 L545.06,290.26 L545.24,288.94 L545.42,287.61 L545.60,286.27 L545.78,284.91 L545.96,283.55 L546.14,282.18 L546.32,280.80 L546.50,279.41 L546.67,278.01 L546.85,276.60 L547.03,275.18 L547.21,273.76 L547.39,272.32 L547.57,270.88 L547.75,269.43 L547.93,267.98 L548.10,266.52 L548.28,265.05 L548.46,263.57 L548.64,262.09 L548.82,260.61 L549.00,259.12 L549.18,257.62 L549.36,256.12 L549.54,254.62 L549.71,253.11 L549.89,251.60 L550.07,250.08 L550.25,248.56 L550.43,247.04 L550.61,245.52 L550.79,243.99 L550.97,242.46 L551.14,240.93 L551.32,239.40 L551.50,237.87 L551.68,236.33 L551.86,234.80 L552.04,233.27 L552.22,231.73 L552.40,230.20 L552.58,228.67 L552.75,227.14 L552.93,225.61 L553.11,224.08 L553.29,222.56 L553.47,221.03 L553.65,219.51 L553.83,218.00 L554.01,216.48 L554.19,214.97 L554.36,213.47 L554.54,211.96 L554.72,210.47 L554.90,208.97 L555.08,207.48 L555.26,206.00 L555.44,204.53 L555.62,203.05 L555.79,201.59 L555.97,200.13 L556.15,198.68 L556.33,197.24 L556.51,195.80 L556.69,194.37 L556.87,192.95 L557.05,191.54 L557.23,190.13 L557.40,188.74 L557.58,187.35 L557.76,185.98 L557.94,184.61 L558.12,183.25 L558.30,181.91 L558.48,180.57 L558.66,179.24 L558.83,177.93 L559.01,176.63 L559.19,175.34 L559.37,174.06 L559.55,172.79 L559.73,171.53 L559.91,170.29 L560.09,169.06 L560.27,167.84 L560.44,166.64 L560.62,165.45 L560.80,164.27 L560.98,163.11 L561.16,161.96 L561.34,160.83 L561.52,159.71 L561.70,158.61 L561.87,157.52 L562.05,156.45 L562.23,155.39 L562.41,154.35 L562.59,153.32 L562.77,152.31 L562.95,151.32 L563.13,150.34 L563.31,149.38 L563.48,148.44 L563.66,147.51 L563.84,146.61 L564.02,145.72 L564.20,144.84 L564.38,143.99 L564.56,143.15 L564.74,142.33 L564.91,141.53 L565.09,140.75 L565.27,139.99 L565.45,139.24 L565.63,138.52 L565.81,137.81 L565.99,137.13 L566.17,136.46 L566.35,135.81 L566.52,135.18 L566.70,134.58 L566.88,133.99 L567.06,133.42 L567.24,132.87 L567.42,132.35 L567.60,131.84 L567.78,131.35 L568.13,130.44 L568.49,129.61 L568.85,128.87 L569.21,128.21 L569.56,127.64 L569.92,127.15 L570.28,126.74 L570.82,126.30 L571.35,126.05 L571.89,126.00 L572.43,126.14 L572.96,126.47 L573.50,127.00 L573.86,127.46 L574.21,128.01 L574.57,128.64 L574.93,129.36 L575.29,130.16 L575.64,131.04 L575.82,131.51 L576.00,132.01 L576.18,132.52 L576.36,133.05 L576.54,133.61 L576.72,134.18 L576.90,134.78 L577.08,135.39 L577.25,136.03 L577.43,136.68 L577.61,137.35 L577.79,138.05 L577.97,138.76 L578.15,139.49 L578.33,140.24 L578.51,141.01 L578.68,141.80 L578.86,142.60 L579.04,143.43 L579.22,144.27 L579.40,145.13 L579.58,146.01 L579.76,146.91 L579.94,147.82 L580.12,148.75 L580.29,149.70 L580.47,150.67 L580.65,151.65 L580.83,152.65 L581.01,153.66 L581.19,154.69 L581.37,155.74 L581.55,156.80 L581.72,157.88 L581.90,158.98 L582.08,160.08 L582.26,161.21 L582.44,162.35 L582.62,163.50 L582.80,164.66 L582.98,165.85 L583.16,167.04 L583.33,168.25 L583.51,169.47 L583.69,170.70 L583.87,171.95 L584.05,173.21 L584.23,174.48 L584.41,175.77 L584.59,177.06 L584.76,178.37 L584.94,179.69 L585.12,181.01 L585.30,182.35 L585.48,183.70 L585.66,185.06 L585.84,186.43 L586.02,187.81 L586.20,189.20 L586.37,190.60 L586.55,192.01 L586.73,193.42 L586.91,194.85 L587.09,196.28 L587.27,197.72 L587.45,199.16 L587.63,200.62 L587.81,202.08 L587.98,203.54 L588.16,205.02 L588.34,206.50 L588.52,207.98 L588.70,209.47 L588.88,210.96 L589.06,212.46 L589.24,213.97 L589.41,215.48 L589.59,216.99 L589.77,218.50 L589.95,220.02 L590.13,221.54 L590.31,223.07 L590.49,224.59 L590.67,226.12 L590.85,227.65 L591.02,229.18 L591.20,230.71 L591.38,232.25 L591.56,233.78 L591.74,235.31 L591.92,236.85 L592.10,238.38 L592.28,239.91 L592.45,241.44 L592.63,242.97 L592.81,244.50 L592.99,246.02 L593.17,247.55 L593.35,249.07 L593.53,250.59 L593.71,252.10 L593.89,253.61 L594.06,255.12 L594.24,256.62 L594.42,258.12 L594.60,259.62 L594.78,261.10 L594.96,262.59 L595.14,264.07 L595.32,265.54 L595.49,267.01 L595.67,268.46 L595.85,269.92 L596.03,271.36 L596.21,272.80 L596.39,274.23 L596.57,275.65 L596.75,277.07 L596.93,278.47 L597.10,279.87 L597.28,281.26 L597.46,282.64 L597.64,284.01 L597.82,285.37 L598.00,286.72 L598.18,288.05 L598.36,289.38 L598.53,290.70 L598.71,292.00 L598.89,293.30 L599.07,294.58 L599.25,295.85 L599.43,297.11 L599.61,298.35 L599.79,299.59 L599.97,300.81 L600.14,302.01 L600.32,303.21 L600.50,304.39 L600.68,305.55 L600.86,306.70 L601.04,307.84 L601.22,308.96 L601.40,310.07 L601.58,311.16 L601.75,312.24 L601.93,313.30 L602.11,314.34 L602.29,315.37 L602.47,316.38 L602.65,317.38 L602.83,318.36 L603.01,319.33 L603.18,320.27 L603.36,321.20 L603.54,322.11 L603.72,323.01 L603.90,323.88 L604.08,324.74 L604.26,325.58 L604.44,326.41 L604.62,327.21 L604.79,328.00 L604.97,328.76 L605.15,329.51 L605.33,330.24 L605.51,330.95 L605.69,331.64 L605.87,332.31 L606.05,332.97 L606.22,333.60 L606.40,334.21 L606.58,334.80 L606.76,335.37 L606.94,335.93 L607.12,336.46 L607.30,336.97 L607.48,337.46 L607.66,337.93 L608.01,338.81 L608.37,339.61 L608.73,340.32 L609.09,340.94 L609.44,341.48 L609.80,341.94 L610.16,342.31 L610.70,342.70 L611.23,342.90 L611.77,342.91 L612.30,342.71 L612.84,342.33 L613.20,341.96 L613.56,341.51 L613.91,340.98 L614.27,340.35 L614.63,339.65 L614.99,338.86 L615.34,337.98 L615.52,337.51 L615.70,337.03 L615.88,336.52 L616.06,335.99 L616.24,335.44 L616.42,334.87 L616.60,334.28 L616.78,333.67 L616.95,333.04 L617.13,332.39 L617.31,331.72 L617.49,331.03 L617.67,330.32 L617.85,329.59 L618.03,328.85 L618.21,328.08 L618.39,327.30 L618.56,326.50 L618.74,325.68 L618.92,324.84 L619.10,323.98 L619.28,323.11 L619.46,322.21 L619.64,321.30 L619.82,320.38 L619.99,319.43 L620.17,318.47 L620.35,317.49 L620.53,316.50 L620.71,315.48 L620.89,314.46 L621.07,313.41 L621.25,312.35 L621.43,311.28 L621.60,310.19 L621.78,309.08 L621.96,307.96 L622.14,306.83 L622.32,305.68 L622.50,304.52 L622.68,303.34 L622.86,302.15 L623.03,300.94 L623.21,299.72 L623.39,298.49 L623.57,297.25 L623.75,295.99 L623.93,294.72 L624.11,293.44 L624.29,292.15 L624.47,290.84 L624.64,289.53 L624.82,288.20 L625.00,286.86 L625.18,285.52 L625.36,284.16 L625.54,282.79 L625.72,281.41 L625.90,280.03 L626.07,278.63 L626.25,277.23 L626.43,275.81 L626.61,274.39 L626.79,272.96 L626.97,271.52 L627.15,270.08 L627.33,268.63 L627.51,267.17 L627.68,265.70 L627.86,264.23 L628.04,262.75 L628.22,261.27 L628.40,259.78 L628.58,258.29 L628.76,256.79 L628.94,255.29 L629.11,253.78 L629.29,252.27 L629.47,250.75 L629.65,249.24 L629.83,247.72 L630.01,246.19 L630.19,244.67 L630.37,243.14 L630.55,241.61 L630.72,240.08 L630.90,238.55 L631.08,237.02 L631.26,235.48 L631.44,233.95 L631.62,232.42 L631.80,230.88 L631.98,229.35 L632.15,227.82 L632.33,226.29 L632.51,224.76 L632.69,223.23 L632.87,221.71 L633.05,220.19 L633.23,218.67 L633.41,217.16 L633.59,215.64 L633.76,214.13 L633.94,212.63 L634.12,211.13 L634.30,209.64 L634.48,208.15 L634.66,206.66 L634.84,205.18 L635.02,203.71 L635.20,202.24 L635.37,200.78 L635.55,199.33 L635.73,197.88 L635.91,196.44 L636.09,195.01 L636.27,193.58 L636.45,192.16 L636.63,190.76 L636.80,189.36 L636.98,187.97 L637.16,186.59 L637.34,185.22 L637.52,183.85 L637.70,182.50 L637.88,181.16 L638.06,179.83 L638.24,178.51 L638.41,177.21 L638.59,175.91 L638.77,174.62 L638.95,173.35 L639.13,172.09 L639.31,170.84 L639.49,169.61 L639.67,168.38 L639.84,167.17 L640.02,165.98 L640.20,164.80 L640.38,163.63 L640.56,162.47 L640.74,161.33 L640.92,160.21 L641.10,159.10 L641.28,158.00 L641.45,156.92 L641.63,155.86 L641.81,154.81 L641.99,153.78 L642.17,152.76 L642.35,151.76 L642.53,150.77 L642.71,149.81 L642.88,148.86 L643.06,147.92 L643.24,147.01 L643.42,146.11 L643.60,145.23 L643.78,144.37 L643.96,143.52 L644.14,142.69 L644.32,141.89 L644.49,141.10 L644.67,140.32 L644.85,139.57 L645.03,138.84 L645.21,138.12 L645.39,137.43 L645.57,136.75 L645.75,136.10 L645.92,135.46 L646.10,134.84 L646.28,134.25 L646.46,133.67 L646.64,133.11 L646.82,132.58 L647.00,132.06 L647.18,131.57 L647.36,131.09 L647.71,130.20 L648.07,129.40 L648.43,128.68 L648.79,128.04 L649.14,127.49 L649.50,127.03 L649.86,126.65 L650.40,126.24 L650.93,126.03 L651.47,126.01 L652.01,126.18 L652.54,126.56 L652.90,126.91 L653.26,127.35 L653.61,127.88 L653.97,128.49 L654.33,129.19 L654.69,129.97 L655.05,130.84 L655.40,131.78 L655.58,132.29 L655.76,132.81 L655.94,133.36 L656.12,133.92 L656.30,134.51 L656.48,135.12 L656.65,135.74 L656.83,136.39 L657.01,137.05 L657.19,137.74 L657.37,138.44 L657.55,139.16 L657.73,139.90 L657.91,140.67 L658.09,141.44 L658.26,142.24 L658.44,143.06 L658.62,143.89 L658.80,144.75 L658.98,145.62 L659.16,146.51 L659.34,147.41 L659.52,148.34 L659.69,149.28 L659.87,150.24 L660.05,151.21 L660.23,152.20 L660.41,153.21 L660.59,154.23 L660.77,155.27 L660.95,156.33 L661.13,157.40 L661.30,158.49 L661.48,159.59 L661.66,160.71 L661.84,161.84 L662.02,162.98 L662.20,164.14 L662.38,165.32 L662.56,166.51 L662.73,167.71 L662.91,168.92 L663.09,170.15 L663.27,171.39 L663.45,172.65 L663.63,173.91 L663.81,175.19 L663.99,176.48 L664.17,177.79 L664.34,179.10 L664.52,180.42 L664.70,181.76 L664.88,183.10 L665.06,184.46 L665.24,185.82 L665.42,187.20 L665.60,188.58 L665.77,189.98 L665.95,191.38 L666.13,192.79 L666.31,194.21 L666.49,195.64 L666.67,197.08 L666.85,198.52 L667.03,199.97 L667.21,201.43 L667.38,202.89 L667.56,204.36 L667.74,205.84 L667.92,207.32 L668.10,208.81 L668.28,210.30 L668.46,211.80 L668.64,213.30 L668.82,214.80 L668.99,216.31 L669.17,217.83 L669.35,219.35 L669.53,220.87 L669.71,222.39 L669.89,223.91 L670.07,225.44 L670.25,226.97 L670.42,228.50 L670.60,230.03 L670.78,231.56 L670.96,233.10 L671.14,234.63 L671.32,236.16 L671.50,237.70 L671.68,239.23 L671.86,240.76 L672.03,242.29 L672.21,243.82 L672.39,245.35 L672.57,246.87 L672.75,248.39 L672.93,249.91 L673.11,251.43 L673.29,252.94 L673.46,254.45 L673.64,255.96 L673.82,257.46 L674.00,258.95 L674.18,260.44 L674.36,261.93 L674.54,263.41 L674.72,264.89 L674.90,266.35 L675.07,267.82 L675.25,269.27 L675.43,270.72 L675.61,272.16 L675.79,273.60 L675.97,275.02 L676.15,276.44 L676.33,277.85 L676.50,279.25 L676.68,280.64 L676.86,282.03 L677.04,283.40 L677.22,284.76 L677.40,286.12 L677.58,287.46 L677.76,288.79 L677.94,290.11 L678.11,291.43 L678.29,292.72 L678.47,294.01 L678.65,295.29 L678.83,296.55 L679.01,297.80 L679.19,299.04 L679.37,300.27 L679.54,301.48 L679.72,302.68 L679.90,303.86 L680.08,305.03 L680.26,306.19 L680.44,307.33 L680.62,308.46 L680.80,309.58 L680.98,310.68 L681.15,311.76 L681.33,312.83 L681.51,313.88 L681.69,314.92 L681.87,315.94 L682.05,316.94 L682.23,317.93 L682.41,318.90 L682.58,319.85 L682.76,320.79 L682.94,321.71 L683.12,322.61 L683.30,323.50 L683.48,324.36 L683.66,325.21 L683.84,326.04 L684.02,326.86 L684.19,327.65 L684.37,328.43 L684.55,329.18 L684.73,329.92 L684.91,330.64 L685.09,331.34 L685.27,332.02 L685.45,332.68 L685.63,333.32 L685.80,333.94 L685.98,334.54 L686.16,335.12 L686.34,335.68 L686.52,336.22 L686.70,336.75 L686.88,337.25 L687.06,337.72 L687.41,338.62 L687.77,339.44 L688.13,340.17 L688.49,340.81 L688.84,341.37 L689.20,341.85 L689.56,342.24 L690.10,342.66 L690.63,342.89 L691.17,342.92 L691.71,342.76 L692.24,342.40 L692.78,341.85 L693.14,341.37 L693.49,340.81 L693.85,340.17 L694.21,339.44 L694.57,338.62 L694.92,337.72 L695.10,337.25 L695.28,336.75 L695.46,336.22 L695.64,335.68 L695.82,335.12 L696.00,334.54 L696.18,333.94 L696.35,333.32 L696.53,332.68 L696.71,332.02 L696.89,331.34 L697.07,330.64 L697.25,329.92 L697.43,329.18 L697.61,328.43 L697.79,327.65 L697.96,326.86 L698.14,326.04 L698.32,325.21 L698.50,324.36 L698.68,323.50 L698.86,322.61 L699.04,321.71 L699.22,320.79 L699.40,319.85 L699.57,318.90 L699.75,317.93 L699.93,316.94 L700.11,315.94 L700.29,314.92 L700.47,313.88 L700.65,312.83 L700.83,311.76 L701.00,310.68 L701.18,309.58 L701.36,308.46 L701.54,307.33 L701.72,306.19 L701.90,305.03 L702.08,303.86 L702.26,302.68 L702.44,301.48 L702.61,300.27 L702.79,299.04 L702.97,297.80 L703.15,296.55 L703.33,295.29 L703.51,294.01 L703.69,292.72 L703.87,291.43 L704.04,290.11 L704.22,288.79 L704.40,287.46 L704.58,286.12 L704.76,284.76 L704.94,283.40 L705.12,282.03 L705.30,280.64 L705.48,279.25 L705.65,277.85 L705.83,276.44 L706.01,275.02 L706.19,273.60 L706.37,272.16 L706.55,270.72 L706.73,269.27 L706.91,267.82 L707.08,266.35 L707.26,264.89 L707.44,263.41 L707.62,261.93 L707.80,260.44 L707.98,258.95 L708.16,257.46 L708.34,255.96 L708.52,254.45 L708.69,252.94 L708.87,251.43 L709.05,249.91 L709.23,248.39 L709.41,246.87 L709.59,245.35 L709.77,243.82 L709.95,242.29 L710.12,240.76 L710.30,239.23 L710.48,237.70 L710.66,236.16 L710.84,234.63 L711.02,233.10 L711.20,231.56 L711.38,230.03 L711.56,228.50 L711.73,226.97 L711.91,225.44 L712.09,223.91 L712.27,222.39 L712.45,220.87 L712.63,219.35 L712.81,217.83 L712.99,216.31 L713.16,214.80 L713.34,213.30 L713.52,211.80 L713.70,210.30 L713.88,208.81 L714.06,207.32 L714.24,205.84 L714.42,204.36 L714.60,202.89 L714.77,201.43 L714.95,199.97 L715.13,198.52 L715.31,197.08 L715.49,195.64 L715.67,194.21 L715.85,192.79 L716.03,191.38 L716.21,189.98 L716.38,188.58 L716.56,187.20 L716.74,185.82 L716.92,184.46 L717.10,183.10 L717.28,181.76 L717.46,180.42 L717.64,179.10 L717.81,177.79 L717.99,176.48 L718.17,175.19 L718.35,173.91 L718.53,172.65 L718.71,171.39 L718.89,170.15 L719.07,168.92 L719.25,167.71 L719.42,166.51 L719.60,165.32 L719.78,164.14 L719.96,162.98 L720.14,161.84 L720.32,160.71 L720.50,159.59 L720.68,158.49 L720.85,157.40 L721.03,156.33 L721.21,155.27 L721.39,154.23 L721.57,153.21 L721.75,152.20 L721.93,151.21 L722.11,150.24 L722.29,149.28 L722.46,148.34 L722.64,147.41 L722.82,146.51 L723.00,145.62 L723.18,144.75 L723.36,143.89 L723.54,143.06 L723.72,142.24 L723.89,141.44 L724.07,140.67 L724.25,139.90 L724.43,139.16 L724.61,138.44 L724.79,137.74 L724.97,137.05 L725.15,136.39 L725.33,135.74 L725.50,135.12 L725.68,134.51 L725.86,133.92 L726.04,133.36 L726.22,132.81 L726.40,132.29 L726.58,131.78 L726.76,131.30 L727.11,130.39 L727.47,129.57 L727.83,128.83 L728.19,128.18 L728.54,127.61 L728.90,127.12 L729.26,126.72 L729.80,126.29 L730.33,126.04 L730.87,126.00 L731.41,126.15 L731.94,126.49 L732.48,127.03 L732.84,127.49 L733.19,128.04 L733.55,128.68 L733.91,129.40 L734.27,130.20 L734.62,131.09 L734.80,131.57 L734.98,132.06 L735.16,132.58 L735.34,133.11 L735.52,133.67 L735.70,134.25 L735.88,134.84 L736.06,135.46 L736.23,136.10 L736.41,136.75 L736.59,137.43 L736.77,138.12 L736.95,138.84 L737.13,139.57 L737.31,140.32 L737.49,141.10 L737.66,141.89 L737.84,142.69 L738.02,143.52 L738.20,144.37 L738.38,145.23 L738.56,146.11 L738.74,147.01 L738.92,147.92 L739.10,148.86 L739.27,149.81 L739.45,150.77 L739.63,151.76 L739.81,152.76 L739.99,153.78 L740.17,154.81 L740.35,155.86 L740.53,156.92 L740.70,158.00 L740.88,159.10 L741.06,160.21 L741.24,161.33 L741.42,162.47 L741.60,163.63 L741.78,164.80 L741.96,165.98 L742.14,167.17 L742.31,168.38 L742.49,169.61 L742.67,170.84 L742.85,172.09 L743.03,173.35 L743.21,174.62 L743.39,175.91 L743.57,177.21 L743.74,178.51 L743.92,179.83 L744.10,181.16 L744.28,182.50 L744.46,183.85 L744.64,185.22 L744.82,186.59 L745.00,187.97 L745.18,189.36 L745.35,190.76 L745.53,192.16 L745.71,193.58 L745.89,195.01 L746.07,196.44 L746.25,197.88 L746.43,199.33 L746.61,200.78 L746.78,202.24 L746.96,203.71 L747.14,205.18 L747.32,206.66 L747.50,208.15 L747.68,209.64 L747.86,211.13 L748.04,212.63 L748.22,214.13 L748.39,215.64 L748.57,217.16 L748.75,218.67 L748.93,220.19 L749.11,221.71 L749.29,223.23 L749.47,224.76 L749.65,226.29 L749.83,227.82 L750.00,229.35 L750.18,230.88 L750.36,232.42 L750.54,233.95 L750.72,235.48 L750.90,237.02 L751.08,238.55 L751.26,240.08 L751.43,241.61 L751.61,243.14 L751.79,244.67 L751.97,246.19 L752.15,247.72 L752.33,249.24 L752.51,250.75 L752.69,252.27 L752.87,253.78 L753.04,255.29 L753.22,256.79 L753.40,258.29 L753.58,259.78 L753.76,261.27 L753.94,262.75 L754.12,264.23 L754.30,265.70 L754.47,267.17 L754.65,268.63 L754.83,270.08 L755.01,271.52 L755.19,272.96 L755.37,274.39 L755.55,275.81 L755.73,277.23 L755.91,278.63 L756.08,280.03 L756.26,281.41 L756.44,282.79 L756.62,284.16 L756.80,285.52 L756.98,286.86 L757.16,288.20 L757.34,289.53 L757.51,290.84 L757.69,292.15 L757.87,293.44 L758.05,294.72 L758.23,295.99 L758.41,297.25 L758.59,298.49 L758.77,299.72 L758.95,300.94 L759.12,302.15 L759.30,303.34 L759.48,304.52 L759.66,305.68 L759.84,306.83 L760.02,307.96 L760.20,309.08 L760.38,310.19 L760.55,311.28 L760.73,312.35 L760.91,313.41 L761.09,314.46 L761.27,315.48 L761.45,316.50 L761.63,317.49 L761.81,318.47 L761.99,319.43 L762.16,320.38 L762.34,321.30 L762.52,322.21 L762.70,323.11 L762.88,323.98 L763.06,324.84 L763.24,325.68 L763.42,326.50 L763.59,327.30 L763.77,328.08 L763.95,328.85 L764.13,329.59 L764.31,330.32 L764.49,331.03 L764.67,331.72 L764.85,332.39 L765.03,333.04 L765.20,333.67 L765.38,334.28 L765.56,334.87 L765.74,335.44 L765.92,335.99 L766.10,336.52 L766.28,337.03 L766.46,337.51 L766.64,337.98 L766.99,338.86 L767.35,339.65 L767.71,340.35 L768.07,340.98 L768.42,341.51 L768.78,341.96 L769.14,342.33 L769.68,342.71 L770.21,342.91 L770.75,342.90 L771.28,342.70 L771.82,342.31 L772.18,341.94 L772.54,341.48 L772.89,340.94 L773.25,340.32 L773.61,339.61 L773.97,338.81 L774.32,337.93 L774.50,337.46 L774.68,336.97 L774.86,336.46 L775.04,335.93 L775.22,335.37 L775.40,334.80 L775.58,334.21 L775.76,333.60 L775.93,332.97 L776.11,332.31 L776.29,331.64 L776.47,330.95 L776.65,330.24 L776.83,329.51 L777.01,328.76 L777.19,328.00 L777.36,327.21 L777.54,326.41 L777.72,325.58 L777.90,324.74 L778.08,323.88 L778.26,323.01 L778.44,322.11 L778.62,321.20 L778.80,320.27 L778.97,319.33 L779.15,318.36 L779.33,317.38 L779.51,316.38 L779.69,315.37 L779.87,314.34 L780.05,313.30 L780.23,312.24 L780.40,311.16 L780.58,310.07 L780.76,308.96 L780.94,307.84 L781.12,306.70 L781.30,305.55 L781.48,304.39 L781.66,303.21 L781.84,302.01 L782.01,300.81 L782.19,299.59 L782.37,298.35 L782.55,297.11 L782.73,295.85 L782.91,294.58 L783.09,293.30 L783.27,292.00 L783.45,290.70 L783.62,289.38 L783.80,288.05 L783.98,286.72 L784.16,285.37 L784.34,284.01 L784.52,282.64 L784.70,281.26 L784.88,279.87 L785.05,278.47 L785.23,277.07 L785.41,275.65 L785.59,274.23 L785.77,272.80 L785.95,271.36 L786.13,269.92 L786.31,268.46 L786.49,267.01 L786.66,265.54 L786.84,264.07 L787.02,262.59 L787.20,261.10 L787.38,259.62 L787.56,258.12 L787.74,256.62 L787.92,255.12 L788.09,253.61 L788.27,252.10 L788.45,250.59 L788.63,249.07 L788.81,247.55 L788.99,246.02 L789.17,244.50 L789.35,242.97 L789.53,241.44 L789.70,239.91 L789.88,238.38 L790.06,236.85 L790.24,235.31 L790.42,233.78 L790.60,232.25 L790.78,230.71 L790.96,229.18 L791.13,227.65 L791.31,226.12 L791.49,224.59 L791.67,223.07 L791.85,221.54 L792.03,220.02 L792.21,218.50 L792.39,216.99 L792.57,215.48 L792.74,213.97 L792.92,212.46 L793.10,210.96 L793.28,209.47 L793.46,207.98 L793.64,206.50 L793.82,205.02 L794.00,203.54 L794.17,202.08 L794.35,200.62 L794.53,199.16 L794.71,197.72 L794.89,196.28 L795.07,194.85 L795.25,193.42 L795.43,192.01 L795.61,190.60 L795.78,189.20 L795.96,187.81 L796.14,186.43 L796.32,185.06 L796.50,183.70 L796.68,182.35 L796.86,181.01 L797.04,179.69 L797.22,178.37 L797.39,177.06 L797.57,175.77 L797.75,174.48 L797.93,173.21 L798.11,171.95 L798.29,170.70 L798.47,169.47 L798.65,168.25 L798.82,167.04 L799.00,165.85 L799.18,164.66 L799.36,163.50 L799.54,162.35 L799.72,161.21 L799.90,160.08 L800.08,158.98 L800.26,157.88 L800.43,156.80 L800.61,155.74 L800.79,154.69 L800.97,153.66 L801.15,152.65 L801.33,151.65 L801.51,150.67 L801.69,149.70 L801.86,148.75 L802.04,147.82 L802.22,146.91 L802.40,146.01 L802.58,145.13 L802.76,144.27 L802.94,143.43 L803.12,142.60 L803.30,141.80 L803.47,141.01 L803.65,140.24 L803.83,139.49 L804.01,138.76 L804.19,138.05 L804.37,137.35 L804.55,136.68 L804.73,136.03 L804.90,135.39 L805.08,134.78 L805.26,134.18 L805.44,133.61 L805.62,133.05 L805.80,132.52 L805.98,132.01 L806.16,131.51 L806.34,131.04 L806.69,130.16 L807.05,129.36 L807.41,128.64 L807.77,128.01 L808.12,127.46 L808.48,127.00 L808.84,126.63 L809.38,126.23 L809.91,126.02 L810.45,126.01 L810.98,126.19 L811.52,126.57 L811.88,126.93 L812.24,127.38 L812.59,127.91 L812.95,128.53 L813.31,129.23 L813.67,130.02 L814.03,130.89 L814.38,131.84 L814.56,132.35 L814.74,132.87 L814.92,133.42 L815.10,133.99 L815.28,134.58 L815.46,135.18 L815.63,135.81 L815.81,136.46 L815.99,137.13 L816.17,137.81 L816.35,138.52 L816.53,139.24 L816.71,139.99 L816.89,140.75 L817.07,141.53 L817.24,142.33 L817.42,143.15 L817.60,143.99 L817.78,144.84 L817.96,145.72 L818.14,146.61 L818.32,147.51 L818.50,148.44 L818.67,149.38 L818.85,150.34 L819.03,151.32 L819.21,152.31 L819.39,153.32 L819.57,154.35 L819.75,155.39 L819.93,156.45 L820.11,157.52 L820.28,158.61 L820.46,159.71 L820.64,160.83 L820.82,161.96 L821.00,163.11 L821.18,164.27 L821.36,165.45 L821.54,166.64 L821.71,167.84 L821.89,169.06 L822.07,170.29 L822.25,171.53 L822.43,172.79 L822.61,174.06 L822.79,175.34 L822.97,176.63 L823.15,177.93 L823.32,179.24 L823.50,180.57 L823.68,181.91 L823.86,183.25 L824.04,184.61 L824.22,185.98 L824.40,187.35 L824.58,188.74 L824.75,190.13 L824.93,191.54 L825.11,192.95 L825.29,194.37 L825.47,195.80 L825.65,197.24 L825.83,198.68 L826.01,200.13 L826.19,201.59 L826.36,203.05 L826.54,204.53 L826.72,206.00 L826.90,207.48 L827.08,208.97 L827.26,210.47 L827.44,211.96 L827.62,213.47 L827.79,214.97 L827.97,216.48 L828.15,218.00 L828.33,219.51 L828.51,221.03 L828.69,222.56 L828.87,224.08 L829.05,225.61 L829.23,227.14 L829.40,228.67 L829.58,230.20 L829.76,231.73 L829.94,233.27 L830.12,234.80 L830.30,236.33 L830.48,237.87 L830.66,239.40 L830.84,240.93 L831.01,242.46 L831.19,243.99 L831.37,245.52 L831.55,247.04 L831.73,248.56 L831.91,250.08 L832.09,251.60 L832.27,253.11 L832.44,254.62 L832.62,256.12 L832.80,257.62 L832.98,259.12 L833.16,260.61 L833.34,262.09 L833.52,263.57 L833.70,265.05 L833.88,266.52 L834.05,267.98 L834.23,269.43 L834.41,270.88 L834.59,272.32 L834.77,273.76 L834.95,275.18 L835.13,276.60 L835.31,278.01 L835.48,279.41 L835.66,280.80 L835.84,282.18 L836.02,283.55 L836.20,284.91 L836.38,286.27 L836.56,287.61 L836.74,288.94 L836.92,290.26 L837.09,291.57 L837.27,292.87 L837.45,294.15 L837.63,295.43 L837.81,296.69 L837.99,297.94 L838.17,299.18 L838.35,300.40 L838.52,301.61 L838.70,302.81 L838.88,303.99 L839.06,305.16 L839.24,306.32 L839.42,307.46 L839.60,308.59 L839.78,309.70 L839.96,310.80 L840.13,311.88 L840.31,312.94 L840.49,314.00 L840.67,315.03 L840.85,316.05 L841.03,317.05 L841.21,318.04 L841.39,319.01 L841.56,319.96 L841.74,320.89 L841.92,321.81 L842.10,322.71 L842.28,323.59 L842.46,324.46 L842.64,325.31 L842.82,326.13 L843.00,326.95 L843.17,327.74 L843.35,328.51 L843.53,329.26 L843.71,330.00 L843.89,330.72 L844.07,331.41 L844.25,332.09 L844.43,332.75 L844.60,333.39 L844.78,334.01 L844.96,334.61 L845.14,335.19 L845.32,335.74 L845.50,336.28 L845.68,336.80 L845.86,337.30 L846.04,337.78 L846.39,338.67 L846.75,339.48 L847.11,340.20 L847.47,340.84 L847.82,341.40 L848.18,341.87 L848.54,342.26 L849.08,342.67 L849.61,342.89 L850.15,342.92 L850.69,342.75 L851.22,342.38 L851.58,342.03 L851.94,341.59 L852.29,341.07 L852.65,340.46 L853.01,339.77 L853.37,338.99 L853.73,338.13 L854.08,337.19 L854.26,336.69 L854.44,336.17 L854.62,335.62 L854.80,335.06 L854.98,334.48 L855.16,333.87 L855.33,333.25 L855.51,332.61 L855.69,331.94 L855.87,331.26 L856.05,330.56 L856.23,329.84 L856.41,329.10 L856.59,328.34 L856.77,327.56 L856.94,326.77 L857.12,325.95 L857.30,325.12 L857.48,324.27 L857.66,323.40 L857.84,322.51 L858.02,321.61 L858.20,320.69 L858.37,319.75 L858.55,318.79 L858.73,317.82 L858.91,316.83 L859.09,315.82 L859.27,314.80 L859.45,313.76 L859.63,312.71 L859.81,311.64 L859.98,310.55 L860.16,309.45 L860.34,308.34 L860.52,307.21 L860.70,306.06 L860.88,304.90 L861.06,303.73 L861.24,302.55 L861.41,301.34 L861.59,300.13 L861.77,298.90 L861.95,297.66 L862.13,296.41 L862.31,295.15 L862.49,293.87 L862.67,292.58 L862.85,291.28 L863.02,289.97 L863.20,288.65 L863.38,287.31 L863.56,285.97 L863.74,284.61 L863.92,283.25 L864.10,281.87 L864.28,280.49 L864.46,279.10 L864.63,277.69 L864.81,276.28 L864.99,274.86 L865.17,273.44 L865.35,272.00 L865.53,270.56 L865.71,269.11 L865.89,267.65 L866.06,266.19 L866.24,264.72 L866.42,263.25 L866.60,261.77 L866.78,260.28 L866.96,258.79 L867.14,257.29 L867.32,255.79 L867.50,254.28 L867.67,252.77 L867.85,251.26 L868.03,249.74 L868.21,248.22 L868.39,246.70 L868.57,245.18 L868.75,243.65 L868.93,242.12 L869.10,240.59 L869.28,239.06 L869.46,237.53 L869.64,235.99 L869.82,234.46" stroke="#000" stroke-width="1.6" fill="none" stroke-linejoin="round"/>
<path d="M154.50,246.88 L154.66,246.35 L154.82,245.82 L154.98,245.29 L155.14,244.76 L155.29,244.22 L155.45,243.69 L155.61,243.15 L155.77,242.61 L155.93,242.07 L156.09,241.53 L156.25,240.99 L156.41,240.44 L156.57,239.90 L156.73,239.35 L156.88,238.80 L157.04,238.26 L157.20,237.71 L157.36,237.16 L157.52,236.61 L157.66,236.13 L157.80,235.65 L157.94,235.17 L158.08,234.69 L158.22,234.21 L158.35,233.73 L158.49,233.25 L158.63,232.77 L158.77,232.29 L158.93,231.74 L159.09,231.19 L159.25,230.64 L159.41,230.09 L159.57,229.55 L159.73,229.00 L159.88,228.46 L160.04,227.91 L160.20,227.37 L160.36,226.83 L160.52,226.29 L160.68,225.75 L160.84,225.21 L161.00,224.67 L161.16,224.14 L161.32,223.61 L161.47,223.07 L161.63,222.54 L161.79,222.02 L161.95,221.49 L162.11,220.97 L162.27,220.44 L162.43,219.92 L162.59,219.41 L162.75,218.89 L162.91,218.38 L163.06,217.87 L163.22,217.36 L163.38,216.86 L163.54,216.36 L163.70,215.86 L163.86,215.36 L164.02,214.87 L164.18,214.38 L164.34,213.89 L164.49,213.41 L164.65,212.93 L164.81,212.45 L164.99,211.92 L165.17,211.39 L165.35,210.87 L165.53,210.35 L165.71,209.84 L165.89,209.33 L166.06,208.83 L166.24,208.33 L166.42,207.83 L166.60,207.35 L166.78,206.86 L166.96,206.39 L167.14,205.92 L167.34,205.40 L167.53,204.89 L167.73,204.39 L167.93,203.89 L168.13,203.40 L168.33,202.92 L168.53,202.45 L168.73,201.99 L168.95,201.49 L169.16,200.99 L169.38,200.51 L169.60,200.04 L169.82,199.58 L170.04,199.13 L170.28,198.65 L170.52,198.18 L170.75,197.73 L170.99,197.29 L171.25,196.82 L171.51,196.38 L171.77,195.95 L172.05,195.50 L172.32,195.07 L172.62,194.64 L172.92,194.22 L173.24,193.80 L173.56,193.41 L173.89,193.02 L174.25,192.64 L174.63,192.28 L175.03,191.94 L175.44,191.62 L175.88,191.34 L176.34,191.11 L176.81,190.92 L177.31,190.79 L177.81,190.73 L178.32,190.74 L178.82,190.81 L179.32,190.95 L179.79,191.16 L180.25,191.41 L180.67,191.68 L181.07,191.99 L181.44,192.32 L181.82,192.69 L182.18,193.07 L182.52,193.47 L182.83,193.86 L183.15,194.28 L183.45,194.70 L183.75,195.14 L184.03,195.57 L184.31,196.02 L184.56,196.46 L184.82,196.91 L185.08,197.37 L185.32,197.82 L185.56,198.27 L185.80,198.74 L186.03,199.22 L186.25,199.68 L186.47,200.14 L186.69,200.61 L186.91,201.10 L187.13,201.59 L187.35,202.09 L187.54,202.56 L187.74,203.04 L187.94,203.52 L188.14,204.01 L188.34,204.50 L188.54,205.01 L188.74,205.52 L188.93,206.04 L189.11,206.51 L189.29,206.99 L189.47,207.47 L189.65,207.96 L189.83,208.46 L190.01,208.96 L190.19,209.46 L190.37,209.97 L190.54,210.49 L190.72,211.00 L190.90,211.53 L191.08,212.06 L191.26,212.59 L191.42,213.07 L191.58,213.55 L191.74,214.03 L191.90,214.52 L192.05,215.01 L192.21,215.51 L192.37,216.00 L192.53,216.50 L192.69,217.01 L192.85,217.51 L193.01,218.02 L193.17,218.53 L193.33,219.04 L193.48,219.56 L193.64,220.08 L193.80,220.60 L193.96,221.12 L194.12,221.64 L194.28,222.17 L194.44,222.70 L194.60,223.23 L194.76,223.76 L194.92,224.29 L195.07,224.83 L195.23,225.37 L195.39,225.90 L195.55,226.44 L195.71,226.99 L195.87,227.53 L196.03,228.07 L196.19,228.61 L196.35,229.16 L196.51,229.71 L196.66,230.25 L196.82,230.80 L196.98,231.35 L197.14,231.90 L197.30,232.45 L197.44,232.93 L197.58,233.41 L197.72,233.89 L197.86,234.37 L198.00,234.85 L198.13,235.33 L198.27,235.81 L198.41,236.29 L198.55,236.77 L198.71,237.32 L198.87,237.87 L199.03,238.42 L199.19,238.96 L199.35,239.51 L199.51,240.06 L199.66,240.60 L199.82,241.14 L199.98,241.69 L200.14,242.23 L200.30,242.77 L200.46,243.31 L200.62,243.84 L200.78,244.38 L200.94,244.92 L201.10,245.45 L201.25,245.98 L201.41,246.51 L201.57,247.04 L201.73,247.56 L201.89,248.08 L202.05,248.61 L202.21,249.12 L202.37,249.64 L202.53,250.16 L202.68,250.67 L202.84,251.18 L203.00,251.68 L203.16,252.19 L203.32,252.69 L203.48,253.19 L203.64,253.68 L203.80,254.17 L203.96,254.66 L204.12,255.15 L204.27,255.63 L204.43,256.11 L204.59,256.59 L204.77,257.12 L204.95,257.64 L205.13,258.17 L205.31,258.68 L205.49,259.20 L205.67,259.70 L205.84,260.21 L206.02,260.70 L206.20,261.19 L206.38,261.68 L206.56,262.16 L206.74,262.64 L206.92,263.11 L207.12,263.62 L207.31,264.13 L207.51,264.63 L207.71,265.13 L207.91,265.61 L208.11,266.09 L208.31,266.56 L208.51,267.02 L208.73,267.52 L208.94,268.01 L209.16,268.49 L209.38,268.96 L209.60,269.42 L209.84,269.91 L210.08,270.39 L210.31,270.85 L210.55,271.30 L210.81,271.78 L211.07,272.23 L211.33,272.68 L211.61,273.14 L211.88,273.57 L212.16,274.00 L212.46,274.43 L212.76,274.83 L213.08,275.24 L213.41,275.65 L213.75,276.03 L214.11,276.40 L214.49,276.75 L214.88,277.08 L215.30,277.38 L215.74,277.64 L216.20,277.87 L216.67,278.04 L217.17,278.15 L217.69,278.20 L218.20,278.17 L218.70,278.07 L219.18,277.92 L219.63,277.71 L220.07,277.47 L220.49,277.18 L220.89,276.86 L221.26,276.52 L221.62,276.17 L221.98,275.78 L222.32,275.38 L222.63,274.98 L222.95,274.55 L223.25,274.13 L223.55,273.69 L223.83,273.25 L224.10,272.80 L224.36,272.36 L224.62,271.91 L224.88,271.44 L225.12,270.99 L225.36,270.53 L225.59,270.06 L225.83,269.57 L226.05,269.12 L226.27,268.65 L226.49,268.17 L226.71,267.69 L226.93,267.19 L227.12,266.73 L227.32,266.26 L227.52,265.79 L227.72,265.31 L227.92,264.82 L228.12,264.32 L228.32,263.81 L228.52,263.30 L228.69,262.83 L228.87,262.36 L229.05,261.88 L229.23,261.39 L229.41,260.90 L229.59,260.41 L229.77,259.91 L229.95,259.40 L230.13,258.89 L230.30,258.38 L230.48,257.86 L230.66,257.33 L230.84,256.80 L231.00,256.33 L231.16,255.85 L231.32,255.37 L231.48,254.89 L231.64,254.40 L231.79,253.91 L231.95,253.41 L232.11,252.92 L232.27,252.42 L232.43,251.91 L232.59,251.41 L232.75,250.90 L232.91,250.39 L233.07,249.88 L233.22,249.36 L233.38,248.84 L233.54,248.32 L233.70,247.80 L233.86,247.28 L234.02,246.75 L234.18,246.22 L234.34,245.69 L234.50,245.16 L234.66,244.63 L234.81,244.09 L234.97,243.55 L235.13,243.02 L235.29,242.48 L235.45,241.93 L235.61,241.39 L235.77,240.85 L235.93,240.31 L236.09,239.76 L236.25,239.21 L236.40,238.67 L236.56,238.12 L236.72,237.57 L236.88,237.02 L237.04,236.47 L237.18,235.99 L237.32,235.51 L237.46,235.03 L237.60,234.55 L238.09,234.46 L238.61,234.46 L239.13,234.46 L239.64,234.46 L240.16,234.46 L240.68,234.46 L240.91,233.96 L241.01,233.35 L241.11,232.75 L241.21,232.15 L241.31,231.56 L241.41,230.98 L241.51,230.40 L241.61,229.84 L241.71,229.28 L241.81,228.72 L241.91,228.18 L242.01,227.64 L242.11,227.10 L242.21,226.58 L242.31,226.06 L242.40,225.54 L242.50,225.04 L242.60,224.53 L242.70,224.04 L242.80,223.55 L242.92,222.97 L243.04,222.39 L243.16,221.83 L243.28,221.27 L243.40,220.72 L243.52,220.18 L243.64,219.64 L243.76,219.11 L243.88,218.59 L243.99,218.08 L244.11,217.57 L244.23,217.07 L244.35,216.57 L244.47,216.08 L244.61,215.52 L244.75,214.97 L244.89,214.42 L245.03,213.88 L245.17,213.35 L245.31,212.83 L245.44,212.32 L245.58,211.81 L245.72,211.31 L245.86,210.82 L246.00,210.33 L246.16,209.78 L246.32,209.25 L246.48,208.72 L246.64,208.20 L246.80,207.69 L246.96,207.19 L247.11,206.69 L247.27,206.21 L247.43,205.73 L247.61,205.20 L247.79,204.69 L247.97,204.18 L248.15,203.69 L248.33,203.20 L248.50,202.72 L248.70,202.21 L248.90,201.70 L249.10,201.21 L249.30,200.73 L249.50,200.26 L249.72,199.76 L249.94,199.27 L250.15,198.79 L250.37,198.33 L250.61,197.85 L250.85,197.38 L251.09,196.92 L251.35,196.45 L251.60,196.00 L251.86,195.56 L252.14,195.12 L252.42,194.69 L252.72,194.26 L253.02,193.86 L253.33,193.46 L253.67,193.06 L254.03,192.68 L254.41,192.31 L254.80,191.97 L255.22,191.66 L255.66,191.39 L256.12,191.17 L256.59,191.00 L257.09,190.89 L257.61,190.85 L258.12,190.89 L258.62,190.99 L259.10,191.16 L259.55,191.38 L259.99,191.64 L260.41,191.94 L260.80,192.27 L261.18,192.62 L261.54,192.99 L261.88,193.36 L262.22,193.77 L262.53,194.18 L262.83,194.59 L263.13,195.02 L263.41,195.44 L263.69,195.88 L263.96,196.34 L264.22,196.79 L264.48,197.25 L264.74,197.72 L264.98,198.17 L265.22,198.64 L265.45,199.12 L265.69,199.61 L265.91,200.07 L266.13,200.54 L266.35,201.02 L266.57,201.51 L266.79,202.01 L266.98,202.48 L267.18,202.95 L267.38,203.43 L267.58,203.92 L267.78,204.41 L267.98,204.91 L268.18,205.42 L268.37,205.94 L268.55,206.41 L268.73,206.89 L268.91,207.37 L269.09,207.86 L269.27,208.35 L269.45,208.85 L269.63,209.35 L269.81,209.86 L269.98,210.38 L270.16,210.89 L270.34,211.42 L270.52,211.94 L270.70,212.48 L270.86,212.95 L271.02,213.43 L271.18,213.92 L271.34,214.40 L271.49,214.89 L271.65,215.39 L271.81,215.88 L271.97,216.38 L272.13,216.88 L272.29,217.39 L272.45,217.89 L272.61,218.40 L272.77,218.92 L272.93,219.43 L273.08,219.95 L273.24,220.47 L273.40,220.99 L273.56,221.51 L273.72,222.04 L273.88,222.57 L274.04,223.10 L274.20,223.63 L274.36,224.16 L274.51,224.70 L274.67,225.23 L274.83,225.77 L274.99,226.31 L275.15,226.85 L275.31,227.39 L275.47,227.94 L275.63,228.48 L275.79,229.02 L275.95,229.57 L276.10,230.12 L276.26,230.66 L276.42,231.21 L276.58,231.76 L276.74,232.31 L276.88,232.79 L277.02,233.27 L277.16,233.75 L277.30,234.23 L277.75,234.46 L278.27,234.46 L278.79,234.46 L279.30,234.46 L279.82,234.46 L280.34,234.46 L280.54,234.95 L280.63,235.55 L280.73,236.15 L280.83,236.74 L280.93,237.32 L281.03,237.89 L281.13,238.46 L281.23,239.02 L281.33,239.57 L281.43,240.11 L281.53,240.65 L281.63,241.19 L281.73,241.71 L281.83,242.23 L281.93,242.75 L282.03,243.26 L282.13,243.76 L282.22,244.25 L282.32,244.74 L282.44,245.33 L282.56,245.90 L282.68,246.47 L282.80,247.02 L282.92,247.58 L283.04,248.12 L283.16,248.66 L283.28,249.19 L283.40,249.71 L283.52,250.23 L283.64,250.74 L283.75,251.24 L283.87,251.74 L283.99,252.23 L284.13,252.79 L284.27,253.35 L284.41,253.90 L284.55,254.44 L284.69,254.97 L284.83,255.50 L284.97,256.02 L285.11,256.53 L285.24,257.03 L285.38,257.53 L285.52,258.02 L285.66,258.50 L285.82,259.04 L285.98,259.58 L286.14,260.10 L286.30,260.62 L286.46,261.13 L286.62,261.63 L286.77,262.12 L286.93,262.60 L287.09,263.08 L287.27,263.60 L287.45,264.12 L287.63,264.62 L287.81,265.12 L287.99,265.61 L288.17,266.08 L288.36,266.60 L288.56,267.10 L288.76,267.60 L288.96,268.08 L289.16,268.55 L289.38,269.05 L289.60,269.54 L289.81,270.02 L290.03,270.48 L290.27,270.97 L290.51,271.44 L290.75,271.90 L291.01,272.37 L291.27,272.83 L291.52,273.27 L291.80,273.72 L292.08,274.14 L292.38,274.58 L292.68,274.98 L292.99,275.39 L293.33,275.79 L293.67,276.16 L294.03,276.52 L294.40,276.85 L294.80,277.16 L295.22,277.44 L295.68,277.68 L296.15,277.88 L296.65,278.01 L297.15,278.07 L297.66,278.06 L298.16,277.99 L298.66,277.84 L299.13,277.63 L299.57,277.39 L299.99,277.11 L300.39,276.79 L300.76,276.46 L301.12,276.11 L301.48,275.72 L301.82,275.32 L302.13,274.92 L302.45,274.50 L302.75,274.08 L303.05,273.63 L303.33,273.20 L303.60,272.74 L303.86,272.31 L304.12,271.85 L304.38,271.38 L304.62,270.94 L304.86,270.48 L305.09,270.00 L305.33,269.52 L305.55,269.06 L305.77,268.60 L305.99,268.12 L306.21,267.63 L306.43,267.14 L306.62,266.68 L306.82,266.21 L307.02,265.73 L307.22,265.25 L307.42,264.76 L307.62,264.26 L307.82,263.75 L308.02,263.24 L308.19,262.77 L308.37,262.30 L308.55,261.82 L308.73,261.33 L308.91,260.84 L309.09,260.35 L309.27,259.85 L309.45,259.34 L309.63,258.83 L309.80,258.32 L309.98,257.79 L310.16,257.27 L310.34,256.74 L310.50,256.27 L310.66,255.79 L310.82,255.31 L310.98,254.82 L311.14,254.33 L311.29,253.84 L311.45,253.35 L311.61,252.85 L311.77,252.35 L311.93,251.85 L312.09,251.34 L312.25,250.84 L312.41,250.32 L312.57,249.81 L312.72,249.30 L312.88,248.78 L313.04,248.26 L313.20,247.73 L313.36,247.21 L313.52,246.68 L313.68,246.15 L313.84,245.62 L314.00,245.09 L314.16,244.56 L314.31,244.02 L314.47,243.49 L314.63,242.95 L314.79,242.41 L314.95,241.87 L315.11,241.32 L315.27,240.78 L315.43,240.24 L315.59,239.69 L315.75,239.14 L315.90,238.60 L316.06,238.05 L316.22,237.50 L316.38,236.95 L316.54,236.41 L316.68,235.92 L316.82,235.44 L316.96,234.96 L317.10,234.48 L317.61,234.46 L318.13,234.46 L318.65,234.46 L319.16,234.46 L319.68,234.46 L320.20,234.46 L320.71,234.46 L321.23,234.46 L321.75,234.46 L322.26,234.46 L322.78,234.46 L323.30,234.46 L323.81,234.46 L323.91,233.93 L323.97,233.41 L324.03,232.89 L324.09,232.38 L324.15,231.88 L324.21,231.38 L324.29,230.72 L324.37,230.08 L324.45,229.44 L324.53,228.81 L324.61,228.19 L324.69,227.58 L324.77,226.98 L324.85,226.39 L324.92,225.81 L325.00,225.24 L325.08,224.67 L325.16,224.11 L325.24,223.56 L325.32,223.02 L325.40,222.49 L325.48,221.96 L325.56,221.44 L325.64,220.93 L325.72,220.43 L325.80,219.93 L325.90,219.32 L326.00,218.72 L326.10,218.13 L326.20,217.55 L326.30,216.99 L326.40,216.43 L326.49,215.88 L326.59,215.34 L326.69,214.81 L326.79,214.29 L326.89,213.77 L326.99,213.27 L327.09,212.78 L327.21,212.19 L327.33,211.62 L327.45,211.06 L327.57,210.52 L327.69,209.98 L327.81,209.46 L327.93,208.94 L328.04,208.44 L328.16,207.94 L328.30,207.38 L328.44,206.83 L328.58,206.30 L328.72,205.77 L328.86,205.26 L329.00,204.76 L329.14,204.28 L329.30,203.73 L329.46,203.21 L329.61,202.70 L329.77,202.20 L329.93,201.71 L330.11,201.19 L330.29,200.68 L330.47,200.18 L330.65,199.70 L330.85,199.19 L331.04,198.70 L331.24,198.23 L331.46,197.73 L331.68,197.25 L331.90,196.79 L332.14,196.32 L332.38,195.87 L332.63,195.40 L332.89,194.97 L333.17,194.53 L333.47,194.10 L333.79,193.67 L334.10,193.28 L334.44,192.91 L334.82,192.55 L335.22,192.21 L335.63,191.93 L336.09,191.68 L336.57,191.49 L337.07,191.38 L337.58,191.34 L338.10,191.39 L338.60,191.52 L339.07,191.71 L339.53,191.95 L339.95,192.23 L340.34,192.54 L340.72,192.88 L341.08,193.23 L341.44,193.62 L341.77,194.02 L342.09,194.43 L342.39,194.83 L342.69,195.26 L342.97,195.68 L343.25,196.12 L343.52,196.57 L343.78,197.02 L344.04,197.47 L344.30,197.95 L344.54,198.40 L344.78,198.87 L345.01,199.34 L345.25,199.83 L345.47,200.30 L345.69,200.77 L345.91,201.25 L346.13,201.74 L346.34,202.24 L346.54,202.71 L346.74,203.18 L346.94,203.66 L347.14,204.15 L347.34,204.65 L347.54,205.15 L347.74,205.66 L347.93,206.18 L348.11,206.65 L348.29,207.13 L348.47,207.61 L348.65,208.10 L348.83,208.60 L349.01,209.09 L349.19,209.60 L349.37,210.11 L349.54,210.62 L349.72,211.14 L349.90,211.67 L350.08,212.20 L350.26,212.73 L350.42,213.21 L350.58,213.69 L350.74,214.17 L350.90,214.66 L351.05,215.15 L351.21,215.65 L351.37,216.14 L351.53,216.64 L351.69,217.14 L351.85,217.65 L352.01,218.16 L352.17,218.67 L352.33,219.18 L352.48,219.70 L352.64,220.22 L352.80,220.74 L352.96,221.26 L353.12,221.78 L353.28,222.31 L353.44,222.84 L353.60,223.37 L353.76,223.90 L353.92,224.44 L354.07,224.97 L354.23,225.51 L354.39,226.05 L354.55,226.59 L354.71,227.13 L354.87,227.67 L355.03,228.21 L355.19,228.76 L355.35,229.30 L355.50,229.85 L355.66,230.39 L355.82,230.94 L355.98,231.49 L356.14,232.04 L356.30,232.59 L356.44,233.07 L356.58,233.55 L356.72,234.03 L356.98,234.46 L357.49,234.46 L358.01,234.46 L358.53,234.46 L359.04,234.46 L359.56,234.46 L360.08,234.46 L360.59,234.46 L361.11,234.46 L361.62,234.46 L362.14,234.46 L362.66,234.46 L363.17,234.46 L363.53,234.98 L363.59,235.50 L363.65,236.01 L363.71,236.52 L363.77,237.02 L363.85,237.68 L363.93,238.33 L364.01,238.97 L364.09,239.60 L364.17,240.22 L364.25,240.83 L364.33,241.43 L364.41,242.02 L364.49,242.61 L364.57,243.18 L364.65,243.75 L364.72,244.31 L364.80,244.86 L364.88,245.41 L364.96,245.94 L365.04,246.47 L365.12,246.99 L365.20,247.50 L365.28,248.01 L365.36,248.51 L365.46,249.12 L365.56,249.73 L365.66,250.32 L365.76,250.90 L365.86,251.47 L365.96,252.03 L366.06,252.59 L366.16,253.13 L366.25,253.66 L366.35,254.19 L366.45,254.70 L366.55,255.21 L366.65,255.71 L366.77,256.29 L366.89,256.87 L367.01,257.43 L367.13,257.98 L367.25,258.52 L367.37,259.05 L367.49,259.57 L367.61,260.08 L367.72,260.58 L367.84,261.06 L367.98,261.62 L368.12,262.16 L368.26,262.70 L368.40,263.21 L368.54,263.72 L368.68,264.21 L368.82,264.70 L368.98,265.23 L369.14,265.75 L369.29,266.26 L369.45,266.76 L369.61,267.23 L369.79,267.76 L369.97,268.27 L370.15,268.76 L370.33,269.23 L370.53,269.74 L370.73,270.23 L370.92,270.70 L371.14,271.20 L371.36,271.67 L371.58,272.13 L371.82,272.60 L372.06,273.05 L372.31,273.51 L372.57,273.95 L372.85,274.38 L373.15,274.82 L373.47,275.25 L373.79,275.64 L374.12,276.01 L374.48,276.36 L374.88,276.70 L375.30,276.99 L375.73,277.24 L376.21,277.43 L376.71,277.56 L377.22,277.60 L377.74,277.57 L378.24,277.46 L378.71,277.28 L379.17,277.04 L379.61,276.76 L380.02,276.44 L380.40,276.11 L380.76,275.76 L381.12,275.38 L381.46,274.98 L381.77,274.58 L382.09,274.15 L382.39,273.73 L382.67,273.31 L382.95,272.87 L383.22,272.42 L383.48,271.98 L383.74,271.52 L384.00,271.05 L384.24,270.60 L384.48,270.14 L384.71,269.66 L384.95,269.17 L385.17,268.71 L385.39,268.24 L385.61,267.76 L385.83,267.27 L386.05,266.77 L386.24,266.31 L386.44,265.84 L386.64,265.36 L386.84,264.87 L387.04,264.38 L387.24,263.87 L387.44,263.36 L387.63,262.85 L387.81,262.38 L387.99,261.90 L388.17,261.42 L388.35,260.93 L388.53,260.44 L388.71,259.94 L388.89,259.43 L389.07,258.93 L389.24,258.41 L389.42,257.89 L389.60,257.37 L389.78,256.84 L389.96,256.31 L390.12,255.83 L390.28,255.35 L390.44,254.87 L390.60,254.38 L390.75,253.89 L390.91,253.40 L391.07,252.90 L391.23,252.40 L391.39,251.90 L391.55,251.40 L391.71,250.89 L391.87,250.38 L392.03,249.87 L392.18,249.35 L392.34,248.83 L392.50,248.31 L392.66,247.79 L392.82,247.27 L392.98,246.74 L393.14,246.21 L393.30,245.68 L393.46,245.15 L393.62,244.62 L393.77,244.08 L393.93,243.55 L394.09,243.01 L394.25,242.47 L394.41,241.93 L394.57,241.39 L394.73,240.84 L394.89,240.30 L395.05,239.76 L395.21,239.21 L395.36,238.66 L395.52,238.12 L395.68,237.57 L395.84,237.02 L396.00,236.47 L396.14,235.99 L396.28,235.51 L396.42,235.03 L396.56,234.55 L397.05,234.46 L397.57,234.46 L398.09,234.46 L398.60,234.46 L399.12,234.46 L399.64,234.46 L400.15,234.46 L400.67,234.46 L401.19,234.46 L401.70,234.46 L402.22,234.46 L402.74,234.46 L403.25,234.46 L403.77,234.46 L404.29,234.46 L404.80,234.46 L405.32,234.46 L405.84,234.46 L406.23,234.04 L406.29,233.42 L406.35,232.81 L406.41,232.21 L406.47,231.61 L406.53,231.03 L406.59,230.45 L406.65,229.88 L406.71,229.31 L406.77,228.75 L406.83,228.20 L406.89,227.66 L406.95,227.12 L407.01,226.60 L407.07,226.07 L407.13,225.56 L407.19,225.05 L407.25,224.55 L407.33,223.89 L407.41,223.24 L407.48,222.60 L407.56,221.98 L407.64,221.36 L407.72,220.76 L407.80,220.16 L407.88,219.58 L407.96,219.00 L408.04,218.44 L408.12,217.88 L408.20,217.34 L408.28,216.80 L408.36,216.27 L408.44,215.76 L408.52,215.25 L408.60,214.75 L408.70,214.13 L408.80,213.53 L408.90,212.94 L408.99,212.37 L409.09,211.81 L409.19,211.25 L409.29,210.71 L409.39,210.19 L409.49,209.67 L409.59,209.17 L409.69,208.67 L409.81,208.09 L409.93,207.53 L410.05,206.98 L410.17,206.44 L410.29,205.92 L410.41,205.41 L410.52,204.92 L410.66,204.36 L410.80,203.82 L410.94,203.29 L411.08,202.78 L411.22,202.29 L411.38,201.74 L411.54,201.22 L411.70,200.71 L411.86,200.22 L412.04,199.70 L412.21,199.20 L412.39,198.72 L412.59,198.21 L412.79,197.72 L413.01,197.22 L413.23,196.75 L413.47,196.26 L413.70,195.81 L413.96,195.36 L414.24,194.91 L414.54,194.47 L414.86,194.05 L415.19,193.67 L415.55,193.31 L415.95,192.99 L416.39,192.71 L416.84,192.50 L417.34,192.37 L417.86,192.33 L418.35,192.39 L418.85,192.53 L419.31,192.74 L419.74,193.00 L420.16,193.31 L420.56,193.66 L420.92,194.01 L421.27,194.40 L421.61,194.80 L421.93,195.21 L422.23,195.62 L422.53,196.05 L422.80,196.48 L423.08,196.93 L423.34,197.36 L423.60,197.81 L423.86,198.27 L424.10,198.72 L424.33,199.18 L424.57,199.65 L424.81,200.14 L425.03,200.60 L425.25,201.06 L425.47,201.54 L425.69,202.03 L425.90,202.53 L426.10,202.99 L426.30,203.46 L426.50,203.94 L426.70,204.43 L426.90,204.92 L427.10,205.43 L427.30,205.94 L427.49,206.45 L427.67,206.93 L427.85,207.40 L428.03,207.89 L428.21,208.38 L428.39,208.87 L428.57,209.37 L428.75,209.87 L428.92,210.38 L429.10,210.90 L429.28,211.42 L429.46,211.94 L429.64,212.47 L429.82,213.00 L429.98,213.48 L430.14,213.96 L430.30,214.45 L430.45,214.94 L430.61,215.43 L430.77,215.92 L430.93,216.42 L431.09,216.92 L431.25,217.42 L431.41,217.93 L431.57,218.44 L431.73,218.95 L431.89,219.46 L432.04,219.98 L432.20,220.50 L432.36,221.02 L432.52,221.54 L432.68,222.06 L432.84,222.59 L433.00,223.12 L433.16,223.65 L433.32,224.18 L433.47,224.72 L433.63,225.25 L433.79,225.79 L433.95,226.33 L434.11,226.87 L434.27,227.41 L434.43,227.95 L434.59,228.49 L434.75,229.04 L434.91,229.58 L435.06,230.13 L435.22,230.68 L435.38,231.22 L435.54,231.77 L435.70,232.32 L435.86,232.87 L436.00,233.35 L436.14,233.83 L436.28,234.31 L436.75,234.46 L437.27,234.46 L437.79,234.46 L438.30,234.46 L438.82,234.46 L439.34,234.46 L439.85,234.46 L440.37,234.46 L440.89,234.46 L441.40,234.46 L441.92,234.46 L442.44,234.46 L442.95,234.46 L443.47,234.46 L443.99,234.46 L444.50,234.46 L445.02,234.46 L445.54,234.46 L446.05,234.46 L446.21,235.09 L446.27,235.71 L446.33,236.33 L446.39,236.93 L446.45,237.53 L446.51,238.12 L446.57,238.70 L446.63,239.28 L446.69,239.85 L446.75,240.41 L446.81,240.96 L446.87,241.50 L446.93,242.04 L446.99,242.57 L447.05,243.10 L447.11,243.61 L447.17,244.12 L447.22,244.63 L447.28,245.13 L447.36,245.78 L447.44,246.42 L447.52,247.05 L447.60,247.67 L447.68,248.28 L447.76,248.88 L447.84,249.47 L447.92,250.04 L448.00,250.61 L448.08,251.17 L448.16,251.72 L448.24,252.26 L448.32,252.79 L448.40,253.31 L448.48,253.82 L448.56,254.32 L448.64,254.82 L448.73,255.42 L448.83,256.01 L448.93,256.59 L449.03,257.16 L449.13,257.72 L449.23,258.26 L449.33,258.79 L449.43,259.31 L449.53,259.82 L449.63,260.32 L449.75,260.90 L449.87,261.47 L449.99,262.02 L450.11,262.56 L450.23,263.08 L450.34,263.59 L450.46,264.08 L450.60,264.65 L450.74,265.19 L450.88,265.72 L451.02,266.23 L451.16,266.72 L451.32,267.27 L451.48,267.79 L451.64,268.29 L451.79,268.78 L451.97,269.30 L452.15,269.80 L452.33,270.28 L452.53,270.79 L452.73,271.27 L452.95,271.77 L453.17,272.23 L453.40,272.71 L453.64,273.16 L453.90,273.60 L454.18,274.05 L454.48,274.47 L454.80,274.88 L455.13,275.25 L455.51,275.61 L455.91,275.92 L456.35,276.17 L456.82,276.37 L457.32,276.47 L457.84,276.47 L458.33,276.39 L458.81,276.22 L459.27,275.99 L459.70,275.70 L460.10,275.39 L460.48,275.04 L460.84,274.68 L461.17,274.29 L461.49,273.90 L461.81,273.49 L462.11,273.07 L462.41,272.63 L462.68,272.19 L462.96,271.74 L463.22,271.30 L463.48,270.84 L463.74,270.37 L463.98,269.91 L464.21,269.45 L464.45,268.97 L464.67,268.52 L464.89,268.06 L465.11,267.58 L465.33,267.10 L465.54,266.61 L465.76,266.10 L465.96,265.63 L466.16,265.16 L466.36,264.68 L466.56,264.18 L466.76,263.69 L466.96,263.18 L467.15,262.67 L467.33,262.20 L467.51,261.72 L467.69,261.24 L467.87,260.76 L468.05,260.26 L468.23,259.77 L468.41,259.27 L468.59,258.76 L468.76,258.25 L468.94,257.73 L469.12,257.21 L469.30,256.68 L469.48,256.15 L469.64,255.67 L469.80,255.19 L469.96,254.71 L470.12,254.22 L470.27,253.73 L470.43,253.24 L470.59,252.75 L470.75,252.25 L470.91,251.75 L471.07,251.24 L471.23,250.74 L471.39,250.23 L471.55,249.71 L471.70,249.20 L471.86,248.68 L472.02,248.16 L472.18,247.64 L472.34,247.12 L472.50,246.59 L472.66,246.06 L472.82,245.53 L472.98,245.00 L473.14,244.47 L473.29,243.93 L473.45,243.40 L473.61,242.86 L473.77,242.32 L473.93,241.78 L474.09,241.24 L474.25,240.70 L474.41,240.15 L474.57,239.61 L474.72,239.06 L474.88,238.52 L475.04,237.97 L475.20,237.42 L475.36,236.87 L475.52,236.33 L475.68,235.78 L475.82,235.30 L475.96,234.82 L476.31,234.46 L476.83,234.46 L477.35,234.46 L477.86,234.46 L478.38,234.46 L478.90,234.46 L479.41,234.46 L479.93,234.46 L480.45,234.46 L480.96,234.46 L481.48,234.46 L482.00,234.46 L482.51,234.46 L483.03,234.46 L483.55,234.46 L484.06,234.46 L484.58,234.46 L485.10,234.46 L485.61,234.46 L486.13,234.46 L486.65,234.46 L487.16,234.46 L487.68,234.46 L488.20,234.46 L488.71,234.46 L489.23,234.46 L489.47,233.99 L489.53,233.30 L489.59,232.61 L489.65,231.94 L489.71,231.27 L489.77,230.62 L489.83,229.97 L489.89,229.34 L489.95,228.71 L490.00,228.09 L490.06,227.48 L490.12,226.88 L490.18,226.29 L490.24,225.71 L490.30,225.14 L490.36,224.58 L490.42,224.02 L490.48,223.47 L490.54,222.93 L490.60,222.40 L490.66,221.88 L490.72,221.36 L490.78,220.85 L490.84,220.35 L490.92,219.70 L491.00,219.06 L491.08,218.43 L491.16,217.81 L491.24,217.21 L491.32,216.61 L491.40,216.03 L491.48,215.47 L491.55,214.91 L491.63,214.36 L491.71,213.83 L491.79,213.30 L491.87,212.79 L491.95,212.29 L492.05,211.68 L492.15,211.08 L492.25,210.50 L492.35,209.93 L492.45,209.38 L492.55,208.84 L492.65,208.32 L492.75,207.81 L492.85,207.31 L492.97,206.74 L493.08,206.18 L493.20,205.64 L493.32,205.12 L493.44,204.61 L493.56,204.13 L493.70,203.58 L493.84,203.05 L493.98,202.55 L494.12,202.07 L494.28,201.54 L494.44,201.04 L494.59,200.56 L494.77,200.05 L494.95,199.57 L495.15,199.07 L495.35,198.61 L495.57,198.14 L495.81,197.67 L496.07,197.20 L496.34,196.76 L496.64,196.35 L496.98,195.95 L497.36,195.59 L497.77,195.29 L498.23,195.08 L498.73,194.97 L499.24,194.99 L499.74,195.12 L500.20,195.34 L500.64,195.62 L501.03,195.95 L501.41,196.32 L501.75,196.69 L502.09,197.09 L502.40,197.52 L502.70,197.94 L502.98,198.36 L503.26,198.80 L503.52,199.24 L503.77,199.69 L504.03,200.16 L504.27,200.61 L504.51,201.08 L504.75,201.56 L504.97,202.01 L505.19,202.48 L505.40,202.96 L505.62,203.45 L505.84,203.95 L506.04,204.41 L506.24,204.88 L506.44,205.36 L506.64,205.85 L506.83,206.35 L507.03,206.86 L507.23,207.37 L507.41,207.84 L507.59,208.32 L507.77,208.80 L507.95,209.28 L508.13,209.78 L508.31,210.27 L508.48,210.78 L508.66,211.29 L508.84,211.80 L509.02,212.32 L509.20,212.85 L509.38,213.37 L509.54,213.85 L509.70,214.33 L509.86,214.81 L510.01,215.29 L510.17,215.78 L510.33,216.27 L510.49,216.77 L510.65,217.26 L510.81,217.76 L510.97,218.27 L511.13,218.77 L511.29,219.28 L511.44,219.79 L511.60,220.31 L511.76,220.82 L511.92,221.34 L512.08,221.86 L512.24,222.39 L512.40,222.91 L512.56,223.44 L512.72,223.97 L512.88,224.50 L513.03,225.03 L513.19,225.57 L513.35,226.10 L513.51,226.64 L513.67,227.18 L513.83,227.72 L513.99,228.26 L514.15,228.80 L514.31,229.35 L514.46,229.89 L514.62,230.44 L514.78,230.98 L514.94,231.53 L515.10,232.07 L515.26,232.62 L515.42,233.17 L515.58,233.72 L515.74,234.26 L516.21,234.46 L516.73,234.46 L517.25,234.46 L517.76,234.46 L518.28,234.46 L518.80,234.46 L519.31,234.46 L519.83,234.46 L520.35,234.46 L520.86,234.46 L521.38,234.46 L521.90,234.46 L522.41,234.46 L522.93,234.46 L523.45,234.46 L523.96,234.46 L524.48,234.46 L525.00,234.46 L525.51,234.46 L526.03,234.46 L526.55,234.46 L527.06,234.46 L527.58,234.46 L528.10,234.46 L528.61,234.46 L529.13,234.46 L529.23,235.16 L529.29,235.85 L529.35,236.54 L529.41,237.21 L529.47,237.87 L529.53,238.52 L529.59,239.16 L529.65,239.79 L529.71,240.42 L529.76,241.03 L529.82,241.64 L529.88,242.23 L529.94,242.82 L530.00,243.40 L530.06,243.97 L530.12,244.53 L530.18,245.08 L530.24,245.63 L530.30,246.16 L530.36,246.69 L530.42,247.21 L530.48,247.73 L530.54,248.23 L530.60,248.73 L530.68,249.38 L530.76,250.02 L530.84,250.65 L530.92,251.26 L531.00,251.86 L531.08,252.45 L531.16,253.03 L531.24,253.60 L531.31,254.15 L531.39,254.69 L531.47,255.22 L531.55,255.74 L531.63,256.25 L531.71,256.75 L531.81,257.36 L531.91,257.96 L532.01,258.54 L532.11,259.10 L532.21,259.65 L532.31,260.18 L532.41,260.70 L532.51,261.21 L532.61,261.70 L532.73,262.28 L532.84,262.83 L532.96,263.37 L533.08,263.89 L533.20,264.39 L533.34,264.95 L533.48,265.49 L533.62,266.01 L533.76,266.51 L533.92,267.05 L534.08,267.57 L534.24,268.07 L534.41,268.59 L534.59,269.08 L534.79,269.60 L534.99,270.08 L535.21,270.57 L535.43,271.02 L535.67,271.47 L535.92,271.91 L536.20,272.33 L536.52,272.75 L536.88,273.13 L537.28,273.47 L537.71,273.74 L538.19,273.91 L538.71,273.96 L539.20,273.89 L539.68,273.72 L540.14,273.46 L540.55,273.16 L540.93,272.82 L541.29,272.46 L541.63,272.07 L541.95,271.67 L542.24,271.27 L542.54,270.83 L542.82,270.40 L543.10,269.95 L543.36,269.51 L543.61,269.05 L543.85,268.61 L544.09,268.15 L544.33,267.68 L544.57,267.20 L544.79,266.74 L545.01,266.27 L545.22,265.79 L545.44,265.29 L545.66,264.79 L545.86,264.32 L546.06,263.85 L546.26,263.36 L546.46,262.87 L546.65,262.37 L546.85,261.86 L547.05,261.34 L547.23,260.87 L547.41,260.39 L547.59,259.91 L547.77,259.42 L547.95,258.92 L548.12,258.42 L548.30,257.92 L548.48,257.40 L548.66,256.89 L548.84,256.37 L549.02,255.84 L549.20,255.31 L549.36,254.83 L549.52,254.35 L549.67,253.87 L549.83,253.38 L549.99,252.89 L550.15,252.40 L550.31,251.91 L550.47,251.41 L550.63,250.90 L550.79,250.40 L550.95,249.89 L551.11,249.38 L551.26,248.87 L551.42,248.35 L551.58,247.84 L551.74,247.32 L551.90,246.79 L552.06,246.27 L552.22,245.74 L552.38,245.21 L552.54,244.68 L552.69,244.15 L552.85,243.62 L553.01,243.08 L553.17,242.55 L553.33,242.01 L553.49,241.47 L553.65,240.93 L553.81,240.39 L553.97,239.85 L554.13,239.30 L554.28,238.76 L554.44,238.21 L554.60,237.67 L554.76,237.12 L554.92,236.57 L555.08,236.02 L555.24,235.48 L555.40,234.93 L555.58,234.46 L556.09,234.46 L556.61,234.46 L557.13,234.46 L557.64,234.46 L558.16,234.46 L558.68,234.46 L559.19,234.46 L559.71,234.46 L560.23,234.46 L560.74,234.46 L561.26,234.46 L561.78,234.46 L562.29,234.46 L562.81,234.46 L563.33,234.46 L563.84,234.46 L564.36,234.46 L564.88,234.46 L565.39,234.46 L565.91,234.46 L566.42,234.46 L566.94,234.46 L567.46,234.46 L567.97,234.46 L568.49,234.46 L569.01,234.46 L569.52,234.46 L570.04,234.46 L570.56,234.46 L571.07,234.46 L571.59,234.46 L571.81,233.98 L571.87,233.27 L571.93,232.57 L571.99,231.88 L572.05,231.20 L572.11,230.53 L572.17,229.87 L572.23,229.22 L572.29,228.59 L572.35,227.96 L572.41,227.34 L572.47,226.74 L572.53,226.14 L572.58,225.55 L572.64,224.98 L572.70,224.41 L572.76,223.85 L572.82,223.30 L572.88,222.76 L572.94,222.22 L573.00,221.70 L573.06,221.19 L573.12,220.68 L573.18,220.18 L573.26,219.53 L573.34,218.89 L573.42,218.27 L573.50,217.66 L573.58,217.06 L573.66,216.48 L573.74,215.91 L573.82,215.36 L573.90,214.81 L573.98,214.28 L574.06,213.76 L574.13,213.26 L574.21,212.76 L574.31,212.16 L574.41,211.57 L574.51,211.01 L574.61,210.46 L574.71,209.92 L574.81,209.40 L574.91,208.90 L575.03,208.32 L575.15,207.76 L575.27,207.22 L575.39,206.70 L575.51,206.20 L575.64,205.64 L575.78,205.11 L575.92,204.60 L576.06,204.12 L576.22,203.60 L576.38,203.10 L576.56,202.58 L576.74,202.10 L576.94,201.60 L577.15,201.10 L577.37,200.65 L577.61,200.20 L577.89,199.75 L578.19,199.33 L578.53,198.95 L578.92,198.61 L579.36,198.37 L579.86,198.24 L580.37,198.26 L580.85,198.42 L581.29,198.66 L581.71,198.98 L582.08,199.34 L582.42,199.71 L582.74,200.10 L583.04,200.50 L583.33,200.94 L583.61,201.37 L583.89,201.83 L584.15,202.29 L584.41,202.76 L584.65,203.21 L584.88,203.69 L585.12,204.18 L585.34,204.64 L585.56,205.11 L585.78,205.60 L586.00,206.10 L586.20,206.57 L586.39,207.04 L586.59,207.52 L586.79,208.02 L586.99,208.52 L587.19,209.03 L587.39,209.55 L587.57,210.02 L587.75,210.50 L587.92,210.99 L588.10,211.48 L588.28,211.98 L588.46,212.49 L588.64,213.00 L588.82,213.51 L589.00,214.03 L589.18,214.56 L589.35,215.09 L589.51,215.57 L589.67,216.05 L589.83,216.53 L589.99,217.02 L590.15,217.51 L590.31,218.00 L590.47,218.50 L590.63,219.00 L590.79,219.50 L590.94,220.00 L591.10,220.51 L591.26,221.02 L591.42,221.54 L591.58,222.05 L591.74,222.57 L591.90,223.09 L592.06,223.61 L592.22,224.14 L592.38,224.67 L592.53,225.20 L592.69,225.73 L592.85,226.26 L593.01,226.79 L593.17,227.33 L593.33,227.86 L593.49,228.40 L593.65,228.94 L593.81,229.48 L593.96,230.02 L594.12,230.57 L594.28,231.11 L594.44,231.65 L594.60,232.20 L594.76,232.74 L594.92,233.29 L595.08,233.83 L595.24,234.38 L595.73,234.46 L596.25,234.46 L596.77,234.46 L597.28,234.46 L597.80,234.46 L598.32,234.46 L598.83,234.46 L599.35,234.46 L599.87,234.46 L600.38,234.46 L600.90,234.46 L601.42,234.46 L601.93,234.46 L602.45,234.46 L602.97,234.46 L603.48,234.46 L604.00,234.46 L604.52,234.46 L605.03,234.46 L605.55,234.46 L606.07,234.46 L606.58,234.46 L607.10,234.46 L607.62,234.46 L608.13,234.46 L608.65,234.46 L609.17,234.46 L609.68,234.46 L610.20,234.46 L610.72,234.46 L611.23,234.46 L611.67,234.94 L611.73,235.65 L611.79,236.35 L611.85,237.04 L611.91,237.72 L611.97,238.39 L612.03,239.05 L612.09,239.70 L612.15,240.33 L612.21,240.96 L612.27,241.57 L612.32,242.18 L612.38,242.78 L612.44,243.36 L612.50,243.94 L612.56,244.51 L612.62,245.07 L612.68,245.62 L612.74,246.16 L612.80,246.69 L612.86,247.21 L612.92,247.73 L612.98,248.23 L613.04,248.73 L613.12,249.38 L613.20,250.02 L613.28,250.64 L613.36,251.25 L613.44,251.84 L613.52,252.42 L613.60,252.99 L613.68,253.55 L613.76,254.09 L613.83,254.62 L613.91,255.14 L613.99,255.64 L614.07,256.13 L614.17,256.74 L614.27,257.32 L614.37,257.89 L614.47,258.43 L614.57,258.97 L614.67,259.48 L614.77,259.98 L614.89,260.56 L615.01,261.12 L615.13,261.66 L615.25,262.18 L615.36,262.67 L615.50,263.23 L615.64,263.76 L615.78,264.26 L615.94,264.81 L616.10,265.32 L616.26,265.81 L616.44,266.32 L616.62,266.79 L616.82,267.28 L617.03,267.78 L617.27,268.26 L617.53,268.72 L617.81,269.15 L618.13,269.57 L618.48,269.94 L618.90,270.25 L619.36,270.46 L619.86,270.53 L620.35,270.45 L620.83,270.26 L621.27,269.98 L621.66,269.64 L622.02,269.28 L622.36,268.89 L622.68,268.48 L622.97,268.06 L623.25,267.64 L623.53,267.19 L623.79,266.75 L624.05,266.29 L624.29,265.85 L624.52,265.39 L624.76,264.91 L624.98,264.45 L625.20,263.99 L625.42,263.51 L625.64,263.01 L625.86,262.51 L626.05,262.04 L626.25,261.56 L626.45,261.07 L626.65,260.58 L626.85,260.07 L627.05,259.56 L627.23,259.09 L627.41,258.61 L627.58,258.13 L627.76,257.64 L627.94,257.14 L628.12,256.64 L628.30,256.13 L628.48,255.62 L628.66,255.10 L628.84,254.58 L629.02,254.05 L629.19,253.52 L629.35,253.04 L629.51,252.56 L629.67,252.08 L629.83,251.59 L629.99,251.10 L630.15,250.60 L630.31,250.10 L630.47,249.60 L630.62,249.10 L630.78,248.59 L630.94,248.08 L631.10,247.57 L631.26,247.05 L631.42,246.54 L631.58,246.02 L631.74,245.50 L631.90,244.97 L632.06,244.45 L632.21,243.92 L632.37,243.39 L632.53,242.86 L632.69,242.32 L632.85,241.79 L633.01,241.25 L633.17,240.72 L633.33,240.18 L633.49,239.64 L633.65,239.10 L633.80,238.55 L633.96,238.01 L634.12,237.47 L634.28,236.92 L634.44,236.38 L634.60,235.83 L634.76,235.29 L634.92,234.74 L635.33,234.46 L635.85,234.46 L636.37,234.46 L636.88,234.46 L637.40,234.46 L637.92,234.46 L638.43,234.46 L638.95,234.46 L639.47,234.46 L639.98,234.46 L640.50,234.46 L641.02,234.46 L641.53,234.46 L642.05,234.46 L642.57,234.46 L643.08,234.46 L643.60,234.46 L644.12,234.46 L644.63,234.46 L645.15,234.46 L645.67,234.46 L646.18,234.46 L646.70,234.46 L647.22,234.46 L647.73,234.46 L648.25,234.46 L648.77,234.46 L649.28,234.46 L649.80,234.46 L650.32,234.46 L650.83,234.46 L651.35,234.46 L651.87,234.46 L652.38,234.46 L652.90,234.46 L653.42,234.46 L653.93,234.46 L654.45,234.46 L654.97,234.46 L655.48,234.46 L656.00,234.46 L656.52,234.46 L657.03,234.46 L657.55,234.46 L657.93,234.04 L657.99,233.43 L658.05,232.83 L658.11,232.23 L658.16,231.65 L658.22,231.08 L658.28,230.52 L658.34,229.98 L658.40,229.44 L658.46,228.91 L658.52,228.39 L658.58,227.89 L658.64,227.39 L658.72,226.74 L658.80,226.11 L658.88,225.49 L658.96,224.89 L659.04,224.31 L659.12,223.75 L659.20,223.19 L659.28,222.66 L659.36,222.14 L659.44,221.63 L659.54,221.02 L659.64,220.42 L659.73,219.85 L659.83,219.30 L659.93,218.77 L660.03,218.26 L660.13,217.77 L660.25,217.21 L660.37,216.67 L660.49,216.16 L660.61,215.67 L660.75,215.14 L660.89,214.63 L661.05,214.09 L661.20,213.59 L661.38,213.08 L661.56,212.60 L661.76,212.13 L661.98,211.67 L662.24,211.20 L662.52,210.79 L662.85,210.40 L663.25,210.09 L663.73,209.91 L664.24,209.93 L664.72,210.14 L665.14,210.44 L665.52,210.81 L665.85,211.21 L666.15,211.62 L666.43,212.04 L666.71,212.49 L666.97,212.95 L667.21,213.39 L667.44,213.86 L667.68,214.35 L667.90,214.82 L668.12,215.30 L668.34,215.80 L668.54,216.27 L668.74,216.75 L668.93,217.24 L669.13,217.74 L669.33,218.26 L669.51,218.73 L669.69,219.21 L669.87,219.69 L670.05,220.19 L670.23,220.69 L670.40,221.19 L670.58,221.71 L670.76,222.23 L670.94,222.75 L671.12,223.28 L671.28,223.76 L671.44,224.24 L671.60,224.72 L671.76,225.21 L671.91,225.70 L672.07,226.20 L672.23,226.69 L672.39,227.20 L672.55,227.70 L672.71,228.21 L672.87,228.71 L673.03,229.23 L673.19,229.74 L673.35,230.26 L673.50,230.77 L673.66,231.29 L673.82,231.82 L673.98,232.34 L674.14,232.86 L674.30,233.39 L674.46,233.92 L674.62,234.45 L675.13,234.46 L675.65,234.46 L676.17,234.46 L676.68,234.46 L677.20,234.46 L677.72,234.46 L678.23,234.46 L678.75,234.46 L679.27,234.46 L679.78,234.46 L680.30,234.46 L680.82,234.46 L681.33,234.46 L681.85,234.46 L682.37,234.46 L682.88,234.46 L683.40,234.46 L683.92,234.46 L684.43,234.46 L684.95,234.46 L685.47,234.46 L685.98,234.46 L686.50,234.46 L687.02,234.46 L687.53,234.46 L688.05,234.46 L688.57,234.46 L689.08,234.46 L689.60,234.46 L690.12,234.46 L690.63,234.46 L691.15,234.46 L691.67,234.46 L692.18,234.46 L692.70,234.46 L693.22,234.46 L693.73,234.46 L694.25,234.46 L694.77,234.46 L695.28,234.46 L695.80,234.46 L696.32,234.46 L696.83,234.46 L697.35,234.46 L697.87,234.67 L697.92,235.28 L697.98,235.88 L698.04,236.47 L698.10,237.05 L698.16,237.61 L698.22,238.17 L698.28,238.72 L698.34,239.25 L698.40,239.78 L698.46,240.29 L698.52,240.80 L698.60,241.46 L698.68,242.10 L698.76,242.72 L698.84,243.33 L698.92,243.92 L699.00,244.49 L699.08,245.05 L699.16,245.60 L699.24,246.13 L699.32,246.64 L699.40,247.14 L699.49,247.75 L699.59,248.33 L699.69,248.89 L699.79,249.43 L699.89,249.95 L699.99,250.46 L700.11,251.03 L700.23,251.58 L700.35,252.10 L700.47,252.60 L700.61,253.15 L700.75,253.67 L700.89,254.16 L701.04,254.67 L701.20,255.15 L701.38,255.65 L701.58,256.14 L701.80,256.63 L702.04,257.09 L702.32,257.54 L702.63,257.94 L703.01,258.29 L703.47,258.52 L703.98,258.56 L704.46,258.40 L704.90,258.12 L705.28,257.78 L705.61,257.40 L705.93,256.99 L706.23,256.55 L706.51,256.10 L706.77,255.66 L707.03,255.18 L707.26,254.72 L707.50,254.23 L707.72,253.77 L707.94,253.29 L708.16,252.79 L708.36,252.32 L708.56,251.85 L708.75,251.36 L708.95,250.86 L709.15,250.35 L709.33,249.88 L709.51,249.40 L709.69,248.91 L709.87,248.42 L710.05,247.92 L710.22,247.42 L710.40,246.91 L710.58,246.39 L710.76,245.86 L710.94,245.33 L711.10,244.86 L711.26,244.38 L711.42,243.89 L711.58,243.41 L711.73,242.92 L711.89,242.42 L712.05,241.93 L712.21,241.43 L712.37,240.92 L712.53,240.42 L712.69,239.91 L712.85,239.40 L713.01,238.88 L713.16,238.37 L713.32,237.85 L713.48,237.33 L713.64,236.81 L713.80,236.29 L713.96,235.76 L714.12,235.24 L714.28,234.71 L714.71,234.46 L715.23,234.46 L715.75,234.46 L716.26,234.46 L716.78,234.46 L717.30,234.46 L717.81,234.46 L718.33,234.46 L718.85,234.46 L719.36,234.46 L719.88,234.46 L720.40,234.46 L720.91,234.46 L721.43,234.46 L721.95,234.46 L722.46,234.46 L722.98,234.46 L723.50,234.46 L724.01,234.46 L724.53,234.46 L725.05,234.46 L725.56,234.46 L726.08,234.46 L726.60,234.46 L727.11,234.46 L727.63,234.46 L728.15,234.46 L728.66,234.46 L729.18,234.46 L729.70,234.46 L730.21,234.46 L730.73,234.46 L731.25,234.46 L731.76,234.46 L732.28,234.46 L732.80,234.46 L733.31,234.46 L733.83,234.46 L734.35,234.46 L734.86,234.46 L735.38,234.46 L735.90,234.46 L736.41,234.46 L736.93,234.46 L737.45,234.46 L737.96,234.46 L738.48,234.46 L739.00,234.46 L739.51,234.46 L740.03,234.46 L740.55,234.46 L741.06,234.46 L741.58,234.46 L742.10,234.46 L742.61,234.46 L743.13,234.46 L743.65,234.46 L744.14,234.22 L744.24,233.65 L744.34,233.10 L744.44,232.57 L744.54,232.07 L744.66,231.49 L744.78,230.94 L744.90,230.43 L745.02,229.94 L745.16,229.40 L745.29,228.90 L745.45,228.37 L745.61,227.88 L745.79,227.39 L745.99,226.90 L746.21,226.42 L746.47,225.95 L746.77,225.53 L747.12,225.16 L747.56,224.90 L748.08,224.85 L748.55,225.03 L748.97,225.33 L749.33,225.68 L749.65,226.07 L749.94,226.49 L750.22,226.93 L750.48,227.37 L750.74,227.85 L750.98,228.31 L751.22,228.80 L751.43,229.27 L751.65,229.76 L751.87,230.26 L752.07,230.73 L752.27,231.22 L752.47,231.71 L752.67,232.22 L752.87,232.74 L753.04,233.21 L753.22,233.69 L753.40,234.18 L753.82,234.46 L754.34,234.46 L754.85,234.46 L755.37,234.46 L755.89,234.46 L756.40,234.46 L756.92,234.46 L757.44,234.46 L757.95,234.46 L758.47,234.46 L758.99,234.46 L759.50,234.46 L760.02,234.46 L760.53,234.46 L761.05,234.46 L761.57,234.46 L762.08,234.46 L762.60,234.46 L763.12,234.46 L763.63,234.46 L764.15,234.46 L764.67,234.46 L765.18,234.46 L765.70,234.46 L766.22,234.46 L766.73,234.46 L767.25,234.46 L767.77,234.46 L768.28,234.46 L768.80,234.46 L769.32,234.46 L769.83,234.46 L770.35,234.46 L770.87,234.46 L771.38,234.46 L771.90,234.46 L772.42,234.46 L772.93,234.46 L773.45,234.46 L773.97,234.46 L774.48,234.46 L775.00,234.46 L775.52,234.46 L776.03,234.46 L776.55,234.46 L777.07,234.46 L777.58,234.46 L778.10,234.46 L778.62,234.46 L779.13,234.46 L779.65,234.46 L780.17,234.46 L780.68,234.46 L781.20,234.46 L781.72,234.46 L782.23,234.46 L782.75,234.46 L783.27,234.46 L783.76,234.70 L783.86,235.28 L783.96,235.84 L784.06,236.38 L784.16,236.89 L784.26,237.38 L784.38,237.95 L784.50,238.48 L784.62,238.99 L784.76,239.54 L784.90,240.06 L785.03,240.54 L785.19,241.04 L785.37,241.57 L785.55,242.03 L785.75,242.50 L785.99,242.97 L786.27,243.43 L786.58,243.83 L786.98,244.16 L787.46,244.33 L787.96,244.27 L788.41,244.03 L788.81,243.69 L789.15,243.32 L789.47,242.90 L789.76,242.45 L790.04,241.99 L790.30,241.53 L790.54,241.08 L790.78,240.60 L791.00,240.14 L791.21,239.66 L791.43,239.17 L791.63,238.70 L791.83,238.22 L792.03,237.73 L792.23,237.23 L792.43,236.72 L792.61,236.25 L792.78,235.77 L792.96,235.29 L793.14,234.80 L793.52,234.46 L794.04,234.46 L794.55,234.46 L795.07,234.46 L795.59,234.46 L796.10,234.46 L796.62,234.46 L797.14,234.46 L797.65,234.46 L798.17,234.46 L798.69,234.46 L799.20,234.46 L799.72,234.46 L800.24,234.46 L800.75,234.46 L801.27,234.46 L801.79,234.46 L802.30,234.46 L802.82,234.46 L803.33,234.46 L803.85,234.46 L804.37,234.46 L804.88,234.46 L805.40,234.46 L805.92,234.46 L806.43,234.46 L806.95,234.46 L807.47,234.46 L807.98,234.46 L808.50,234.46 L809.02,234.46 L809.53,234.46 L810.05,234.46 L810.57,234.46 L811.08,234.46 L811.60,234.46 L812.12,234.46 L812.63,234.46 L813.15,234.46 L813.67,234.46 L814.18,234.46 L814.70,234.46 L815.22,234.46 L815.73,234.46 L816.25,234.46 L816.77,234.46 L817.28,234.46 L817.80,234.46 L818.32,234.46 L818.83,234.46 L819.35,234.46 L819.87,234.46 L820.38,234.46 L820.90,234.46 L821.42,234.46 L821.93,234.46 L822.45,234.46 L822.97,234.46 L823.48,234.46 L824.00,234.46 L824.52,234.46 L825.03,234.46 L825.55,234.46 L826.07,234.46 L826.58,234.46 L827.10,234.46 L827.62,234.46 L828.13,234.46 L828.65,234.46 L829.17,234.46 L829.68,234.46 L830.20,234.46 L830.72,234.46 L831.23,234.46 L831.75,234.46 L832.27,234.46 L832.78,234.46 L833.30,234.46 L833.82,234.46 L834.33,234.46 L834.85,234.46 L835.37,234.46 L835.88,234.46 L836.40,234.46 L836.92,234.46 L837.43,234.46 L837.95,234.46 L838.47,234.46 L838.98,234.46 L839.50,234.46 L840.01,234.46 L840.53,234.46 L841.05,234.46 L841.56,234.46 L842.08,234.46 L842.60,234.46 L843.11,234.46 L843.63,234.46 L844.15,234.46 L844.66,234.46 L845.18,234.46 L845.70,234.46 L846.21,234.46 L846.73,234.46 L847.25,234.46 L847.76,234.46 L848.28,234.46 L848.80,234.46 L849.31,234.46 L849.83,234.46 L850.35,234.46 L850.86,234.46 L851.38,234.46 L851.90,234.46 L852.41,234.46 L852.93,234.46 L853.45,234.46 L853.96,234.46 L854.48,234.46 L855.00,234.46 L855.51,234.46 L856.03,234.46 L856.55,234.46 L857.06,234.46 L857.58,234.46 L858.10,234.46 L858.61,234.46 L859.13,234.46 L859.65,234.46 L860.16,234.46 L860.68,234.46 L861.20,234.46 L861.71,234.46 L862.23,234.46 L862.75,234.46 L863.26,234.46 L863.78,234.46 L864.30,234.46 L864.81,234.46 L865.33,234.46 L865.85,234.46 L866.36,234.46 L866.88,234.46 L867.40,234.46 L867.91,234.46 L868.43,234.46 L868.95,234.46 L869.46,234.46 L869.82,234.46" stroke="#3b211b" stroke-width="1.6" fill="none" stroke-linejoin="round"/>
<text x="151.8" y="96.00" font-family="Liberation Sans" font-size="4.2" fill="#444" text-anchor="end" letter-spacing="-0.15">400</text>
<text x="151.8" y="130.99" font-family="Liberation Sans" font-size="4.2" fill="#444" text-anchor="end" letter-spacing="-0.15">300</text>
<text x="151.8" y="165.98" font-family="Liberation Sans" font-size="4.2" fill="#444" text-anchor="end" letter-spacing="-0.15">200</text>
<text x="151.8" y="200.97" font-family="Liberation Sans" font-size="4.2" fill="#444" text-anchor="end" letter-spacing="-0.15">100</text>
<text x="151.8" y="235.96" font-family="Liberation Sans" font-size="4.2" fill="#444" text-anchor="end" letter-spacing="-0.15">0</text>
<text x="151.8" y="270.95" font-family="Liberation Sans" font-size="4.2" fill="#444" text-anchor="end" letter-spacing="-0.15">-100</text>
<text x="151.8" y="305.94" font-family="Liberation Sans" font-size="4.2" fill="#444" text-anchor="end" letter-spacing="-0.15">-200</text>
<text x="151.8" y="340.93" font-family="Liberation Sans" font-size="4.2" fill="#444" text-anchor="end" letter-spacing="-0.15">-300</text>
<text x="151.8" y="375.92" font-family="Liberation Sans" font-size="4.2" fill="#444" text-anchor="end" letter-spacing="-0.15">-400</text>
<text x="154.60" y="380.92" font-family="Liberation Sans" font-size="5" fill="#333" text-anchor="middle">0°</text>
<text x="234.02" y="380.92" font-family="Liberation Sans" font-size="5" fill="#333" text-anchor="middle">15°</text>
<text x="313.44" y="380.92" font-family="Liberation Sans" font-size="5" fill="#333" text-anchor="middle">30°</text>
<text x="392.86" y="380.92" font-family="Liberation Sans" font-size="5" fill="#333" text-anchor="middle">45°</text>
<text x="472.28" y="380.92" font-family="Liberation Sans" font-size="5" fill="#333" text-anchor="middle">60°</text>
<text x="551.70" y="380.92" font-family="Liberation Sans" font-size="5" fill="#333" text-anchor="middle">75°</text>
<text x="631.12" y="380.92" font-family="Liberation Sans" font-size="5" fill="#333" text-anchor="middle">90°</text>
<text x="710.54" y="380.92" font-family="Liberation Sans" font-size="5" fill="#333" text-anchor="middle">120°</text>
<text x="789.96" y="380.92" font-family="Liberation Sans" font-size="5" fill="#333" text-anchor="middle">150°</text>
<text x="869.38" y="380.92" font-family="Liberation Sans" font-size="5" fill="#333" text-anchor="middle">180°</text>
<text x="182.5" y="125.6" font-family="Liberation Serif" font-weight="bold" font-size="7.4" fill="#222">U</text>
<text x="177.2" y="186.8" font-family="Liberation Serif" font-weight="bold" font-size="7.4" fill="#222">I</text>
</svg>
<svg style="position:absolute;left:0;top:440px;will-change:transform" width="968" height="360" viewBox="0 440 968 360">
<rect x="203.5" y="460.5" width="607" height="318" fill="#fff" stroke="#d9d9d9" stroke-width="1"/>
<path d="M393.5,474.21V748.40M472.5,474.21V748.40M551.5,474.21V748.40M630.5,474.21V748.40M709.5,474.21V748.40M788.5,474.21V748.40M236.00,709.5H788.44M236.00,670.5H788.44M236.00,591.5H788.44M236.00,552.5H788.44M236.00,513.5H788.44" stroke="#cccccc" stroke-width="1" fill="none"/>
<path d="M315.1,474.21V748.40" stroke="#c8c8c8" stroke-width="2" fill="none"/>
<path d="M236.00,474.2H788.94" stroke="#cdcdcd" stroke-width="2" fill="none"/>
<path d="M236.00,631H788.44" stroke="#c4c4c4" stroke-width="1.6" fill="none"/>
<path d="M236,474.21V748.40" stroke="#bdbdbd" stroke-width="2" fill="none"/>
<path d="M236.00,748.5H788.44" stroke="#b0b0b0" stroke-width="1" fill="none"/>
<text x="218.8" y="751.90" font-family="Liberation Sans" font-size="12.5" fill="#595959" text-anchor="middle">0</text>
<text x="218.8" y="712.73" font-family="Liberation Sans" font-size="12.5" fill="#595959" text-anchor="middle">1</text>
<text x="218.8" y="673.56" font-family="Liberation Sans" font-size="12.5" fill="#595959" text-anchor="middle">2</text>
<text x="218.8" y="634.39" font-family="Liberation Sans" font-size="12.5" fill="#595959" text-anchor="middle">3</text>
<text x="218.8" y="595.22" font-family="Liberation Sans" font-size="12.5" fill="#595959" text-anchor="middle">4</text>
<text x="218.8" y="556.05" font-family="Liberation Sans" font-size="12.5" fill="#595959" text-anchor="middle">5</text>
<text x="218.8" y="516.88" font-family="Liberation Sans" font-size="12.5" fill="#595959" text-anchor="middle">6</text>
<text x="218.8" y="477.71" font-family="Liberation Sans" font-size="12.5" fill="#595959" text-anchor="middle">7</text>
<text x="236.00" y="771.3" font-family="Liberation Sans" font-size="13.2" fill="#595959" text-anchor="middle">0</text>
<text x="314.92" y="771.3" font-family="Liberation Sans" font-size="13.2" fill="#595959" text-anchor="middle">20</text>
<text x="393.84" y="771.3" font-family="Liberation Sans" font-size="13.2" fill="#595959" text-anchor="middle">40</text>
<text x="472.76" y="771.3" font-family="Liberation Sans" font-size="13.2" fill="#595959" text-anchor="middle">60</text>
<text x="551.68" y="771.3" font-family="Liberation Sans" font-size="13.2" fill="#595959" text-anchor="middle">80</text>
<text x="630.60" y="771.3" font-family="Liberation Sans" font-size="13.2" fill="#595959" text-anchor="middle">100</text>
<text x="709.52" y="771.3" font-family="Liberation Sans" font-size="13.2" fill="#595959" text-anchor="middle">120</text>
<text x="788.44" y="771.3" font-family="Liberation Sans" font-size="13.2" fill="#595959" text-anchor="middle">140</text>
<path d="M314.92,738.22 C328.07,737.30 367.53,734.76 393.84,732.73 C420.15,730.71 446.45,728.81 472.76,726.07 C499.07,723.33 525.37,720.46 551.68,716.28 C577.99,712.10 604.29,707.92 630.60,701.00 C656.91,694.08 696.37,679.13 709.52,674.76" stroke="#4f81bd" stroke-width="1.15" fill="none"/>
<rect x="309.52" y="736.42" width="10.8" height="3.6" rx="1.6" fill="#4f81bd"/>
<rect x="388.44" y="730.93" width="10.8" height="3.6" rx="1.6" fill="#4f81bd"/>
<rect x="467.36" y="724.27" width="10.8" height="3.6" rx="1.6" fill="#4f81bd"/>
<rect x="546.28" y="714.48" width="10.8" height="3.6" rx="1.6" fill="#4f81bd"/>
<rect x="625.20" y="699.20" width="10.8" height="3.6" rx="1.6" fill="#4f81bd"/>
<rect x="704.12" y="672.96" width="10.8" height="3.6" rx="1.6" fill="#4f81bd"/>
<path d="M314.92,728.03 C328.07,727.57 367.53,727.05 393.84,725.29 C420.15,723.53 446.45,720.79 472.76,717.46 C499.07,714.13 525.37,710.73 551.68,705.31 C577.99,699.89 604.29,694.21 630.60,684.94 C656.91,675.67 696.37,655.57 709.52,649.69" stroke="#c0504d" stroke-width="1.15" fill="none"/>
<path d="M308.72,728.03H321.12M314.92,722.03V734.03" stroke="#c0504d" stroke-width="2.4"/>
<path d="M387.64,725.29H400.04M393.84,719.29V731.29" stroke="#c0504d" stroke-width="2.4"/>
<path d="M466.56,717.46H478.96M472.76,711.46V723.46" stroke="#c0504d" stroke-width="2.4"/>
<path d="M545.48,705.31H557.88M551.68,699.31V711.31" stroke="#c0504d" stroke-width="2.4"/>
<path d="M624.40,684.94H636.80M630.60,678.94V690.94" stroke="#c0504d" stroke-width="2.4"/>
<path d="M703.32,649.69H715.72M709.52,643.69V655.69" stroke="#c0504d" stroke-width="2.4"/>
<path d="M314.92,723.72 C328.07,722.68 367.53,719.94 393.84,717.46 C420.15,714.97 446.45,712.62 472.76,708.84 C499.07,705.05 525.37,701.20 551.68,694.74 C577.99,688.27 604.29,682.59 630.60,670.06 C656.91,657.53 696.37,627.95 709.52,619.53" stroke="#9bbb59" stroke-width="1.15" fill="none"/>
<path d="M314.92,718.72L319.42,727.52L310.42,727.52Z" fill="#9bbb59"/>
<path d="M393.84,712.46L398.34,721.26L389.34,721.26Z" fill="#9bbb59"/>
<path d="M472.76,703.84L477.26,712.64L468.26,712.64Z" fill="#9bbb59"/>
<path d="M551.68,689.74L556.18,698.54L547.18,698.54Z" fill="#9bbb59"/>
<path d="M630.60,665.06L635.10,673.86L626.10,673.86Z" fill="#9bbb59"/>
<path d="M709.52,614.53L714.02,623.33L705.02,623.33Z" fill="#9bbb59"/>
<path d="M314.92,717.46 C328.07,715.95 367.53,711.25 393.84,708.45 C420.15,705.64 446.45,704.66 472.76,700.61 C499.07,696.57 525.37,691.21 551.68,684.16 C577.99,677.11 604.29,671.04 630.60,658.31 C656.91,645.58 696.37,616.20 709.52,607.78" stroke="#8064a2" stroke-width="1.15" fill="none"/>
<path d="M310.62,713.16L319.22,721.76M319.22,713.16L310.62,721.76" stroke="#8064a2" stroke-width="1.5"/>
<path d="M389.54,704.15L398.14,712.75M398.14,704.15L389.54,712.75" stroke="#8064a2" stroke-width="1.5"/>
<path d="M468.46,696.31L477.06,704.91M477.06,696.31L468.46,704.91" stroke="#8064a2" stroke-width="1.5"/>
<path d="M547.38,679.86L555.98,688.46M555.98,679.86L547.38,688.46" stroke="#8064a2" stroke-width="1.5"/>
<path d="M626.30,654.01L634.90,662.61M634.90,654.01L626.30,662.61" stroke="#8064a2" stroke-width="1.5"/>
<path d="M705.22,603.48L713.82,612.08M713.82,603.48L705.22,612.08" stroke="#8064a2" stroke-width="1.5"/>
<path d="M314.92,711.58 C328.07,709.95 367.53,704.73 393.84,701.79 C420.15,698.85 446.45,698.59 472.76,693.95 C499.07,689.32 525.37,682.66 551.68,673.98 C577.99,665.29 604.29,657.00 630.60,641.86 C656.91,626.71 696.37,592.90 709.52,583.10" stroke="#4bacc6" stroke-width="1.15" fill="none"/>
<path d="M314.92,707.08L319.42,711.58L314.92,716.08L310.42,711.58Z" fill="#4bacc6"/>
<path d="M393.84,697.29L398.34,701.79L393.84,706.29L389.34,701.79Z" fill="#4bacc6"/>
<path d="M472.76,689.45L477.26,693.95L472.76,698.45L468.26,693.95Z" fill="#4bacc6"/>
<path d="M551.68,669.48L556.18,673.98L551.68,678.48L547.18,673.98Z" fill="#4bacc6"/>
<path d="M630.60,637.36L635.10,641.86L630.60,646.36L626.10,641.86Z" fill="#4bacc6"/>
<path d="M709.52,578.60L714.02,583.10L709.52,587.60L705.02,583.10Z" fill="#4bacc6"/>
<path d="M314.92,706.88 C328.07,705.51 367.53,702.05 393.84,698.65 C420.15,695.26 446.45,692.00 472.76,686.51 C499.07,681.03 525.37,675.22 551.68,665.75 C577.99,656.29 604.29,646.69 630.60,629.71 C656.91,612.74 696.37,574.88 709.52,563.91" stroke="#f79646" stroke-width="1.15" fill="none"/>
<rect x="310.22" y="702.18" width="9.4" height="9.4" fill="#f79646"/>
<rect x="389.14" y="693.95" width="9.4" height="9.4" fill="#f79646"/>
<rect x="468.06" y="681.81" width="9.4" height="9.4" fill="#f79646"/>
<rect x="546.98" y="661.05" width="9.4" height="9.4" fill="#f79646"/>
<rect x="625.90" y="625.01" width="9.4" height="9.4" fill="#f79646"/>
<rect x="704.82" y="559.21" width="9.4" height="9.4" fill="#f79646"/>
<path d="M314.92,689.64 C328.07,687.69 367.53,682.66 393.84,677.89 C420.15,673.13 446.45,668.88 472.76,661.05 C499.07,653.22 525.37,644.27 551.68,630.89 C577.99,617.51 604.29,603.41 630.60,580.75 C656.91,558.10 696.37,509.27 709.52,494.97" stroke="#1f3354" stroke-width="1.6" fill="none"/>
<circle cx="314.92" cy="689.64" r="4.4" fill="#264478"/>
<circle cx="393.84" cy="677.89" r="4.4" fill="#264478"/>
<circle cx="472.76" cy="661.05" r="4.4" fill="#264478"/>
<circle cx="551.68" cy="630.89" r="4.4" fill="#264478"/>
<circle cx="630.60" cy="580.75" r="4.4" fill="#264478"/>
<circle cx="709.52" cy="494.97" r="4.4" fill="#264478"/>
<text x="720.0" y="501.8" font-family="Liberation Serif" font-size="16.2" fill="#000">200 мГн</text>
<text x="719.0" y="570.0" font-family="Liberation Serif" font-size="16.2" fill="#000">120 мГн</text>
<text x="718.8" y="592.4" font-family="Liberation Serif" font-size="16.2" fill="#000">100 мГн</text>
<text x="724.6" y="613.6" font-family="Liberation Serif" font-size="16.2" fill="#000">80 мГн</text>
<text x="723.8" y="633.7" font-family="Liberation Serif" font-size="16.2" fill="#000">60 мГн</text>
<text x="723.8" y="657.5" font-family="Liberation Serif" font-size="16.2" fill="#000">40 мГн</text>
<text x="722.0" y="683.5" font-family="Liberation Serif" font-size="16.2" fill="#000">20 мГн</text>
<text x="252" y="498.2" font-family="Liberation Sans" font-size="15.5" fill="#000">tg ф</text>
<text x="769.3" y="745.6" font-family="Liberation Sans" font-size="16" fill="#000">α</text>
</svg>
<div class="ln c" style="left:-0.4px;width:968px;top:409.39px">Рис. 2. Зависимость тока от угла управления при L = 21 мГн. R=24.2 Ом</div><div class="ln j" style="left:136.8px;width:738.2px;top:806.99px"><span>Рис.</span><span>3.</span><span>Зависимость</span><span>тангенса</span><span>угла</span><span>потерь</span><span>от</span><span>угла</span><span>управления</span><span>при</span></div><div class="ln l" style="left:92.3px;width:782.7px;top:832.99px">различных значениях индуктивности</div><div class="ln j" style="left:136.8px;width:738.2px;top:884.79px"><span>Данное</span><span>пособие</span><span>поможет</span><span>студентам,</span><span>аспирантам</span><span>и</span><span>специалистам,</span></div><div class="ln j" style="left:92.3px;width:782.7px;top:911.19px"><span>использующим</span><span>преобразовательную</span><span>технику,</span><span>осуществлять</span><span>виртуальное</span></div><div class="ln j" style="left:92.3px;width:782.7px;top:936.99px"><span>моделирование</span><span>и</span><span>анализ</span><span>работы</span><span>преобразователей</span><span>в</span><span>реальных</span><span>условиях</span><span>с</span><span>целью</span></div><div class="ln l" style="left:92.3px;width:782.7px;top:962.99px">их последующего использования в различных электротехнических комплексах.</div>
<div class="pg" style="top:1265.8px">7</div>
</body></html>
